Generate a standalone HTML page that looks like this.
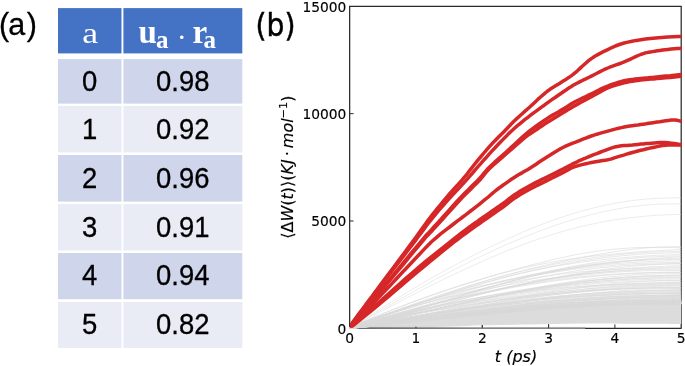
<!DOCTYPE html>
<html><head><meta charset="utf-8"><title>figure</title>
<style>
html,body{margin:0;padding:0;background:#fff;}
body{width:685px;height:366px;overflow:hidden;}
svg{display:block;}
.ss{font-family:"Liberation Sans",sans-serif;}
.dj{font-family:"DejaVu Sans","Liberation Sans",sans-serif;}
.se{font-family:"Liberation Serif",serif;}
</style></head><body>
<svg width="685" height="366" viewBox="0 0 685 366">
<rect width="685" height="366" fill="#fff"/>
<g id="table">
<rect x="58.0" y="8.1" width="63.50" height="45.30" fill="#4472c4"/><rect x="123.4" y="8.1" width="118.90" height="45.30" fill="#4472c4"/>
<rect x="58.0" y="59.1" width="63.50" height="44.50" fill="#cfd5ea"/><rect x="123.4" y="59.1" width="118.90" height="44.50" fill="#cfd5ea"/>
<rect x="58.0" y="105.9" width="63.50" height="46.50" fill="#e9ebf5"/><rect x="123.4" y="105.9" width="118.90" height="46.50" fill="#e9ebf5"/>
<rect x="58.0" y="155.0" width="63.50" height="46.60" fill="#cfd5ea"/><rect x="123.4" y="155.0" width="118.90" height="46.60" fill="#cfd5ea"/>
<rect x="58.0" y="204.1" width="63.50" height="46.40" fill="#e9ebf5"/><rect x="123.4" y="204.1" width="118.90" height="46.40" fill="#e9ebf5"/>
<rect x="58.0" y="253.0" width="63.50" height="46.20" fill="#cfd5ea"/><rect x="123.4" y="253.0" width="118.90" height="46.20" fill="#cfd5ea"/>
<rect x="58.0" y="302.0" width="63.50" height="46.00" fill="#e9ebf5"/><rect x="123.4" y="302.0" width="118.90" height="46.00" fill="#e9ebf5"/>
</g>
<g id="labels" fill="#000">
<text class="ss" x="-1.0" y="34.9" font-size="30.5" stroke="#000" stroke-width="0.3">(<tspan dx="-0.8">a</tspan><tspan dx="1.4">)</tspan></text>
<text class="se" transform="translate(90.2,43.1) scale(1.2,1)" font-size="29.8" fill="#fff" text-anchor="middle">a</text>
<text class="se" y="43.2" font-size="33" font-weight="bold" fill="#fff"><tspan x="138.6">u</tspan><tspan x="156.0" y="48" font-size="25">a</tspan><tspan x="176.8" y="46.6" font-weight="normal" font-size="30">·</tspan><tspan x="192.4" y="43.2">r</tspan><tspan x="203.6" y="48" font-size="25">a</tspan></text>
<text class="ss" transform="translate(89.7,90.5) scale(0.94,1)" font-size="29.2" text-anchor="middle" stroke="#000" stroke-width="0.3">0</text><text class="ss" transform="translate(182.7,90.5) scale(0.94,1)" font-size="29.2" text-anchor="middle" stroke="#000" stroke-width="0.3">0.98</text>
<text class="ss" transform="translate(89.7,139.2) scale(0.94,1)" font-size="29.2" text-anchor="middle" stroke="#000" stroke-width="0.3">1</text><text class="ss" transform="translate(182.7,139.2) scale(0.94,1)" font-size="29.2" text-anchor="middle" stroke="#000" stroke-width="0.3">0.92</text>
<text class="ss" transform="translate(89.7,187.8) scale(0.94,1)" font-size="29.2" text-anchor="middle" stroke="#000" stroke-width="0.3">2</text><text class="ss" transform="translate(182.7,187.8) scale(0.94,1)" font-size="29.2" text-anchor="middle" stroke="#000" stroke-width="0.3">0.96</text>
<text class="ss" transform="translate(89.7,236.8) scale(0.94,1)" font-size="29.2" text-anchor="middle" stroke="#000" stroke-width="0.3">3</text><text class="ss" transform="translate(182.7,236.8) scale(0.94,1)" font-size="29.2" text-anchor="middle" stroke="#000" stroke-width="0.3">0.91</text>
<text class="ss" transform="translate(89.7,285.4) scale(0.94,1)" font-size="29.2" text-anchor="middle" stroke="#000" stroke-width="0.3">4</text><text class="ss" transform="translate(182.7,285.4) scale(0.94,1)" font-size="29.2" text-anchor="middle" stroke="#000" stroke-width="0.3">0.94</text>
<text class="ss" transform="translate(89.7,334.3) scale(0.94,1)" font-size="29.2" text-anchor="middle" stroke="#000" stroke-width="0.3">5</text><text class="ss" transform="translate(182.7,334.3) scale(0.94,1)" font-size="29.2" text-anchor="middle" stroke="#000" stroke-width="0.3">0.82</text>
</g>
<g id="plot">
<defs><linearGradient id="bg" gradientUnits="userSpaceOnUse" x1="350" y1="0" x2="470" y2="0"><stop offset="0" stop-color="#858585"/><stop offset="1" stop-color="#ababab"/></linearGradient></defs>
<path d="M349.65,328.85 L349.65,6.35 L681.2,6.35 L681.2,328.85" stroke="#2b2b2b" stroke-width="1.25" fill="none"/>
<path d="M349.65,328.3 L681.2,328.3" stroke="#2b2b2b" stroke-width="1.25" fill="none"/>
<path d="M415.96,328.3 v-3.9 M482.27,328.3 v-3.9 M548.58,328.3 v-3.9 M614.89,328.3 v-3.9 M349.65,220.98 h3.9 M349.65,113.67 h3.9" stroke="#2b2b2b" stroke-width="1" fill="none"/>
<path d="M349.6,328.3 L357.9,327.2 L366.2,326.1 L374.5,325.0 L382.8,323.9 L391.1,322.9 L399.4,321.8 L407.7,320.7 L416.0,319.7 L424.2,318.6 L432.5,317.6 L440.8,316.6 L449.1,315.6 L457.4,314.7 L465.7,313.7 L474.0,312.8 L482.3,311.9 L490.6,311.0 L498.8,310.2 L507.1,309.4 L515.4,308.6 L523.7,307.8 L532.0,307.1 L540.3,306.4 L548.6,305.7 L556.9,305.1 L565.2,304.5 L573.4,304.0 L581.7,303.4 L590.0,303.0 L598.3,302.5 L606.6,302.1 L614.9,301.8 L623.2,301.4 L631.5,301.2 L639.8,300.9 L648.0,300.7 L656.3,300.6 L664.6,300.5 L672.9,300.4 L681.2,300.4 L681.2,323.9 L672.9,323.9 L664.6,323.8 L656.3,323.8 L648.0,323.8 L639.8,323.7 L631.5,323.7 L623.2,323.7 L614.9,323.6 L606.6,323.6 L598.3,323.6 L590.0,323.5 L581.7,323.6 L573.4,323.7 L565.2,323.8 L556.9,324.0 L548.6,324.1 L540.3,324.3 L532.0,324.4 L523.7,324.6 L515.4,324.7 L507.1,324.9 L498.8,325.0 L490.6,325.2 L482.3,325.3 L474.0,325.6 L465.7,325.9 L457.4,326.2 L449.1,326.5 L440.8,326.7 L432.5,327.0 L424.2,328.0 L416.0,328.0 L407.7,328.0 L399.4,328.0 L391.1,328.0 L382.8,328.0 L374.5,328.0 L366.2,328.0 L357.9,328.0 L349.6,328.0Z" fill="#dcdcdc"/>
<rect x="349.65" y="326.95" width="235.55" height="1.75" fill="url(#bg)"/>
<path d="M415.96,326.7 V328.2 M482.27,325.0 V328.2 M548.58,324.3 V328.2" stroke="#333" stroke-width="1" fill="none"/>
<g fill="none" stroke="#d8d8d8" stroke-width="0.6">
<path d="M349.6,328.3 L357.9,322.9 L366.2,317.7 L374.5,312.4 L382.8,307.3 L391.1,302.1 L399.4,297.1 L407.7,292.1 L416.0,287.1 L424.2,282.3 L432.5,277.5 L440.8,272.8 L449.1,268.2 L457.4,263.8 L465.7,259.4 L474.0,255.1 L482.3,250.9 L490.6,246.8 L498.8,242.9 L507.1,239.1 L515.4,235.3 L523.7,231.8 L532.0,228.3 L540.3,225.0 L548.6,221.9 L556.9,218.9 L565.2,216.1 L573.4,213.5 L581.7,211.1 L590.0,208.8 L598.3,206.8 L606.6,204.9 L614.9,203.3 L623.2,201.9 L631.5,200.7 L639.8,199.7 L648.0,198.9 L656.3,198.4 L664.6,198.0 L672.9,197.8 L681.2,197.8" stroke-opacity="0.8"/>
<path d="M349.6,328.3 L357.9,323.6 L366.2,318.8 L374.5,313.9 L382.8,309.1 L391.1,304.4 L399.4,299.6 L407.7,294.9 L416.0,290.2 L424.2,285.6 L432.5,281.1 L440.8,276.6 L449.1,272.3 L457.4,268.0 L465.7,263.8 L474.0,259.7 L482.3,255.7 L490.6,251.8 L498.8,248.0 L507.1,244.3 L515.4,240.8 L523.7,237.3 L532.0,234.0 L540.3,230.8 L548.6,227.8 L556.9,224.9 L565.2,222.1 L573.4,219.6 L581.7,217.2 L590.0,214.9 L598.3,212.9 L606.6,211.0 L614.9,209.4 L623.2,208.0 L631.5,206.7 L639.8,205.7 L648.0,204.9 L656.3,204.4 L664.6,204.0 L672.9,203.8 L681.2,203.8" stroke-opacity="0.8"/>
<path d="M349.6,328.3 L357.9,323.8 L366.2,319.4 L374.5,314.9 L382.8,310.5 L391.1,306.1 L399.4,301.8 L407.7,297.5 L416.0,293.2 L424.2,289.0 L432.5,284.8 L440.8,280.7 L449.1,276.7 L457.4,272.8 L465.7,268.9 L474.0,265.1 L482.3,261.4 L490.6,257.7 L498.8,254.2 L507.1,250.8 L515.4,247.5 L523.7,244.4 L532.0,241.3 L540.3,238.4 L548.6,235.7 L556.9,233.1 L565.2,230.7 L573.4,228.5 L581.7,226.4 L590.0,224.5 L598.3,222.8 L606.6,221.2 L614.9,219.8 L623.2,218.6 L631.5,217.6 L639.8,216.7 L648.0,215.9 L656.3,215.3 L664.6,214.9 L672.9,214.6 L681.2,214.5" stroke-opacity="0.8"/>
<path d="M349.6,328.3 L357.9,327.3 L366.2,326.3 L374.5,325.3 L382.8,324.4 L391.1,323.4 L399.4,322.5 L407.7,321.5 L416.0,320.6 L424.2,319.7 L432.5,318.8 L440.8,317.9 L449.1,317.0 L457.4,316.1 L465.7,315.3 L474.0,314.5 L482.3,313.7 L490.6,312.9 L498.8,312.2 L507.1,311.5 L515.4,310.8 L523.7,310.1 L532.0,309.5 L540.3,308.8 L548.6,308.3 L556.9,307.7 L565.2,307.2 L573.4,306.7 L581.7,306.3 L590.0,305.9 L598.3,305.5 L606.6,305.1 L614.9,304.8 L623.2,304.5 L631.5,304.3 L639.8,304.1 L648.0,303.9 L656.3,303.8 L664.6,303.7 L672.9,303.6 L681.2,303.6"/>
<path d="M349.6,328.3 L357.9,326.8 L366.2,325.6 L374.5,324.4 L382.8,323.3 L391.1,322.2 L399.4,321.1 L407.7,320.1 L416.0,319.1 L424.2,318.2 L432.5,317.3 L440.8,316.4 L449.1,315.5 L457.4,314.7 L465.7,313.9 L474.0,313.1 L482.3,312.4 L490.6,311.7 L498.8,311.0 L507.1,310.4 L515.4,309.8 L523.7,309.2 L532.0,308.6 L540.3,308.1 L548.6,307.6 L556.9,307.2 L565.2,306.7 L573.4,306.3 L581.7,305.9 L590.0,305.6 L598.3,305.2 L606.6,304.9 L614.9,304.6 L623.2,304.3 L631.5,304.1 L639.8,303.9 L648.0,303.7 L656.3,303.6 L664.6,303.5 L672.9,303.4 L681.2,303.4"/>
<path d="M349.6,328.3 L357.9,327.0 L366.2,325.8 L374.5,324.7 L382.8,323.6 L391.1,322.6 L399.4,321.6 L407.7,320.6 L416.0,319.6 L424.2,318.6 L432.5,317.7 L440.8,316.8 L449.1,316.0 L457.4,315.1 L465.7,314.3 L474.0,313.6 L482.3,312.8 L490.6,312.1 L498.8,311.5 L507.1,310.8 L515.4,310.2 L523.7,309.6 L532.0,309.0 L540.3,308.5 L548.6,307.9 L556.9,307.4 L565.2,306.9 L573.4,306.5 L581.7,306.0 L590.0,305.6 L598.3,305.2 L606.6,304.8 L614.9,304.5 L623.2,304.2 L631.5,304.0 L639.8,303.8 L648.0,303.6 L656.3,303.5 L664.6,303.4 L672.9,303.4 L681.2,303.4"/>
<path d="M349.6,328.3 L357.9,327.2 L366.2,326.1 L374.5,325.1 L382.8,324.1 L391.1,323.0 L399.4,322.1 L407.7,321.1 L416.0,320.1 L424.2,319.2 L432.5,318.3 L440.8,317.5 L449.1,316.6 L457.4,315.8 L465.7,315.0 L474.0,314.3 L482.3,313.5 L490.6,312.8 L498.8,312.1 L507.1,311.4 L515.4,310.7 L523.7,310.1 L532.0,309.4 L540.3,308.8 L548.6,308.2 L556.9,307.6 L565.2,307.0 L573.4,306.5 L581.7,306.0 L590.0,305.5 L598.3,305.1 L606.6,304.7 L614.9,304.4 L623.2,304.1 L631.5,303.9 L639.8,303.7 L648.0,303.6 L656.3,303.6 L664.6,303.6 L672.9,303.7 L681.2,303.7"/>
<path d="M349.6,328.3 L357.9,327.1 L366.2,325.9 L374.5,324.9 L382.8,323.8 L391.1,322.8 L399.4,321.8 L407.7,320.8 L416.0,319.9 L424.2,318.9 L432.5,318.0 L440.8,317.1 L449.1,316.3 L457.4,315.4 L465.7,314.6 L474.0,313.8 L482.3,313.1 L490.6,312.3 L498.8,311.6 L507.1,310.9 L515.4,310.3 L523.7,309.6 L532.0,309.0 L540.3,308.4 L548.6,307.9 L556.9,307.4 L565.2,306.9 L573.4,306.4 L581.7,306.0 L590.0,305.6 L598.3,305.2 L606.6,304.9 L614.9,304.6 L623.2,304.4 L631.5,304.2 L639.8,304.0 L648.0,303.9 L656.3,303.8 L664.6,303.7 L672.9,303.7 L681.2,303.7"/>
<path d="M349.6,328.3 L357.9,327.6 L366.2,326.7 L374.5,325.9 L382.8,325.0 L391.1,324.2 L399.4,323.3 L407.7,322.4 L416.0,321.5 L424.2,320.6 L432.5,319.7 L440.8,318.8 L449.1,318.0 L457.4,317.1 L465.7,316.2 L474.0,315.4 L482.3,314.6 L490.6,313.8 L498.8,313.0 L507.1,312.2 L515.4,311.5 L523.7,310.8 L532.0,310.1 L540.3,309.4 L548.6,308.8 L556.9,308.2 L565.2,307.7 L573.4,307.2 L581.7,306.7 L590.0,306.2 L598.3,305.8 L606.6,305.4 L614.9,305.0 L623.2,304.7 L631.5,304.5 L639.8,304.2 L648.0,304.0 L656.3,303.8 L664.6,303.7 L672.9,303.6 L681.2,303.6"/>
<path d="M349.6,328.3 L357.9,327.2 L366.2,326.1 L374.5,325.0 L382.8,324.0 L391.1,323.0 L399.4,322.0 L407.7,321.0 L416.0,320.1 L424.2,319.2 L432.5,318.3 L440.8,317.4 L449.1,316.5 L457.4,315.7 L465.7,314.9 L474.0,314.1 L482.3,313.4 L490.6,312.6 L498.8,311.9 L507.1,311.2 L515.4,310.6 L523.7,309.9 L532.0,309.3 L540.3,308.6 L548.6,308.1 L556.9,307.5 L565.2,307.0 L573.4,306.5 L581.7,306.0 L590.0,305.6 L598.3,305.2 L606.6,304.8 L614.9,304.5 L623.2,304.2 L631.5,304.0 L639.8,303.9 L648.0,303.8 L656.3,303.7 L664.6,303.7 L672.9,303.7 L681.2,303.7"/>
<path d="M349.6,328.3 L357.9,327.0 L366.2,325.8 L374.5,324.7 L382.8,323.6 L391.1,322.6 L399.4,321.6 L407.7,320.6 L416.0,319.6 L424.2,318.7 L432.5,317.8 L440.8,316.9 L449.1,316.0 L457.4,315.2 L465.7,314.4 L474.0,313.5 L482.3,312.8 L490.6,312.0 L498.8,311.3 L507.1,310.5 L515.4,309.9 L523.7,309.2 L532.0,308.6 L540.3,308.1 L548.6,307.5 L556.9,307.0 L565.2,306.6 L573.4,306.2 L581.7,305.9 L590.0,305.5 L598.3,305.3 L606.6,305.0 L614.9,304.8 L623.2,304.6 L631.5,304.4 L639.8,304.3 L648.0,304.2 L656.3,304.0 L664.6,303.9 L672.9,303.9 L681.2,303.8"/>
<path d="M349.6,328.3 L357.9,327.4 L366.2,326.4 L374.5,325.5 L382.8,324.5 L391.1,323.6 L399.4,322.7 L407.7,321.7 L416.0,320.8 L424.2,319.9 L432.5,319.0 L440.8,318.2 L449.1,317.3 L457.4,316.4 L465.7,315.6 L474.0,314.8 L482.3,314.0 L490.6,313.2 L498.8,312.4 L507.1,311.7 L515.4,310.9 L523.7,310.2 L532.0,309.5 L540.3,308.9 L548.6,308.3 L556.9,307.7 L565.2,307.2 L573.4,306.7 L581.7,306.2 L590.0,305.8 L598.3,305.4 L606.6,305.1 L614.9,304.8 L623.2,304.6 L631.5,304.4 L639.8,304.2 L648.0,304.1 L656.3,304.0 L664.6,303.9 L672.9,303.8 L681.2,303.8"/>
<path d="M349.6,328.3 L357.9,327.5 L366.2,326.6 L374.5,325.7 L382.8,324.8 L391.1,323.9 L399.4,323.0 L407.7,322.1 L416.0,321.2 L424.2,320.3 L432.5,319.4 L440.8,318.5 L449.1,317.6 L457.4,316.7 L465.7,315.9 L474.0,315.0 L482.3,314.2 L490.6,313.4 L498.8,312.6 L507.1,311.9 L515.4,311.2 L523.7,310.5 L532.0,309.8 L540.3,309.2 L548.6,308.6 L556.9,308.0 L565.2,307.5 L573.4,307.0 L581.7,306.5 L590.0,306.1 L598.3,305.7 L606.6,305.3 L614.9,305.0 L623.2,304.7 L631.5,304.4 L639.8,304.2 L648.0,304.0 L656.3,303.8 L664.6,303.7 L672.9,303.6 L681.2,303.5"/>
<path d="M349.6,328.3 L357.9,327.6 L366.2,326.8 L374.5,326.0 L382.8,325.1 L391.1,324.3 L399.4,323.4 L407.7,322.5 L416.0,321.7 L424.2,320.8 L432.5,319.9 L440.8,319.1 L449.1,318.2 L457.4,317.4 L465.7,316.5 L474.0,315.7 L482.3,314.8 L490.6,314.0 L498.8,313.2 L507.1,312.4 L515.4,311.6 L523.7,310.8 L532.0,310.1 L540.3,309.4 L548.6,308.7 L556.9,308.1 L565.2,307.5 L573.4,306.9 L581.7,306.4 L590.0,306.0 L598.3,305.6 L606.6,305.2 L614.9,304.9 L623.2,304.7 L631.5,304.5 L639.8,304.3 L648.0,304.2 L656.3,304.1 L664.6,304.0 L672.9,303.9 L681.2,303.9"/>
<path d="M349.6,328.3 L357.9,326.9 L366.2,325.6 L374.5,324.5 L382.8,323.3 L391.1,322.3 L399.4,321.2 L407.7,320.2 L416.0,319.2 L424.2,318.3 L432.5,317.3 L440.8,316.4 L449.1,315.6 L457.4,314.7 L465.7,313.9 L474.0,313.1 L482.3,312.4 L490.6,311.7 L498.8,311.0 L507.1,310.3 L515.4,309.7 L523.7,309.2 L532.0,308.6 L540.3,308.1 L548.6,307.6 L556.9,307.1 L565.2,306.7 L573.4,306.3 L581.7,305.9 L590.0,305.6 L598.3,305.2 L606.6,304.9 L614.9,304.6 L623.2,304.3 L631.5,304.1 L639.8,303.9 L648.0,303.7 L656.3,303.6 L664.6,303.4 L672.9,303.4 L681.2,303.3"/>
<path d="M349.6,328.3 L357.9,327.3 L366.2,326.3 L374.5,325.3 L382.8,324.3 L391.1,323.3 L399.4,322.4 L407.7,321.4 L416.0,320.5 L424.2,319.6 L432.5,318.7 L440.8,317.8 L449.1,316.9 L457.4,316.0 L465.7,315.2 L474.0,314.4 L482.3,313.6 L490.6,312.8 L498.8,312.1 L507.1,311.4 L515.4,310.7 L523.7,310.0 L532.0,309.4 L540.3,308.8 L548.6,308.2 L556.9,307.6 L565.2,307.1 L573.4,306.6 L581.7,306.2 L590.0,305.8 L598.3,305.4 L606.6,305.0 L614.9,304.7 L623.2,304.5 L631.5,304.2 L639.8,304.0 L648.0,303.8 L656.3,303.7 L664.6,303.6 L672.9,303.5 L681.2,303.5"/>
<path d="M349.6,328.3 L357.9,327.3 L366.2,326.4 L374.5,325.4 L382.8,324.5 L391.1,323.5 L399.4,322.6 L407.7,321.7 L416.0,320.8 L424.2,319.9 L432.5,319.0 L440.8,318.1 L449.1,317.3 L457.4,316.4 L465.7,315.6 L474.0,314.8 L482.3,313.9 L490.6,313.1 L498.8,312.3 L507.1,311.5 L515.4,310.8 L523.7,310.1 L532.0,309.4 L540.3,308.7 L548.6,308.1 L556.9,307.5 L565.2,306.9 L573.4,306.4 L581.7,306.0 L590.0,305.6 L598.3,305.3 L606.6,305.0 L614.9,304.7 L623.2,304.5 L631.5,304.4 L639.8,304.2 L648.0,304.1 L656.3,304.1 L664.6,304.0 L672.9,303.9 L681.2,303.9"/>
<path d="M349.6,328.3 L357.9,327.4 L366.2,326.4 L374.5,325.5 L382.8,324.6 L391.1,323.6 L399.4,322.7 L407.7,321.8 L416.0,320.9 L424.2,320.0 L432.5,319.0 L440.8,318.2 L449.1,317.3 L457.4,316.4 L465.7,315.5 L474.0,314.7 L482.3,313.9 L490.6,313.0 L498.8,312.3 L507.1,311.5 L515.4,310.8 L523.7,310.1 L532.0,309.4 L540.3,308.8 L548.6,308.2 L556.9,307.6 L565.2,307.1 L573.4,306.7 L581.7,306.2 L590.0,305.8 L598.3,305.5 L606.6,305.2 L614.9,304.9 L623.2,304.6 L631.5,304.4 L639.8,304.2 L648.0,304.0 L656.3,303.9 L664.6,303.8 L672.9,303.7 L681.2,303.6"/>
<path d="M349.6,328.3 L357.9,327.6 L366.2,326.9 L374.5,326.1 L382.8,325.3 L391.1,324.4 L399.4,323.6 L407.7,322.7 L416.0,321.8 L424.2,320.9 L432.5,320.0 L440.8,319.1 L449.1,318.2 L457.4,317.4 L465.7,316.5 L474.0,315.6 L482.3,314.8 L490.6,314.0 L498.8,313.2 L507.1,312.4 L515.4,311.6 L523.7,310.9 L532.0,310.2 L540.3,309.6 L548.6,309.0 L556.9,308.4 L565.2,307.8 L573.4,307.3 L581.7,306.8 L590.0,306.3 L598.3,305.9 L606.6,305.4 L614.9,305.1 L623.2,304.7 L631.5,304.4 L639.8,304.1 L648.0,303.8 L656.3,303.6 L664.6,303.5 L672.9,303.3 L681.2,303.3"/>
<path d="M349.6,328.3 L357.9,327.5 L366.2,326.6 L374.5,325.7 L382.8,324.8 L391.1,323.8 L399.4,322.9 L407.7,322.0 L416.0,321.0 L424.2,320.1 L432.5,319.2 L440.8,318.3 L449.1,317.5 L457.4,316.6 L465.7,315.8 L474.0,315.0 L482.3,314.2 L490.6,313.4 L498.8,312.7 L507.1,312.0 L515.4,311.3 L523.7,310.6 L532.0,309.9 L540.3,309.3 L548.6,308.6 L556.9,308.0 L565.2,307.4 L573.4,306.9 L581.7,306.3 L590.0,305.8 L598.3,305.4 L606.6,304.9 L614.9,304.5 L623.2,304.2 L631.5,303.9 L639.8,303.7 L648.0,303.5 L656.3,303.4 L664.6,303.3 L672.9,303.3 L681.2,303.3"/>
<path d="M349.6,328.3 L357.9,327.1 L366.2,325.9 L374.5,324.8 L382.8,323.8 L391.1,322.8 L399.4,321.7 L407.7,320.8 L416.0,319.8 L424.2,318.8 L432.5,317.9 L440.8,317.0 L449.1,316.1 L457.4,315.2 L465.7,314.4 L474.0,313.6 L482.3,312.8 L490.6,312.0 L498.8,311.3 L507.1,310.6 L515.4,310.0 L523.7,309.4 L532.0,308.8 L540.3,308.2 L548.6,307.7 L556.9,307.2 L565.2,306.8 L573.4,306.3 L581.7,305.9 L590.0,305.6 L598.3,305.2 L606.6,304.9 L614.9,304.6 L623.2,304.3 L631.5,304.1 L639.8,303.8 L648.0,303.7 L656.3,303.5 L664.6,303.4 L672.9,303.3 L681.2,303.2"/>
<path d="M349.6,328.3 L357.9,327.2 L366.2,326.2 L374.5,325.2 L382.8,324.2 L391.1,323.2 L399.4,322.2 L407.7,321.3 L416.0,320.3 L424.2,319.4 L432.5,318.5 L440.8,317.6 L449.1,316.7 L457.4,315.9 L465.7,315.0 L474.0,314.2 L482.3,313.4 L490.6,312.7 L498.8,311.9 L507.1,311.2 L515.4,310.5 L523.7,309.8 L532.0,309.2 L540.3,308.6 L548.6,308.0 L556.9,307.4 L565.2,306.9 L573.4,306.4 L581.7,305.9 L590.0,305.5 L598.3,305.1 L606.6,304.8 L614.9,304.5 L623.2,304.2 L631.5,304.0 L639.8,303.8 L648.0,303.6 L656.3,303.5 L664.6,303.5 L672.9,303.4 L681.2,303.4"/>
<path d="M349.6,328.3 L357.9,327.5 L366.2,326.7 L374.5,325.8 L382.8,324.9 L391.1,324.0 L399.4,323.1 L407.7,322.2 L416.0,321.3 L424.2,320.4 L432.5,319.5 L440.8,318.6 L449.1,317.7 L457.4,316.8 L465.7,316.0 L474.0,315.1 L482.3,314.3 L490.6,313.5 L498.8,312.7 L507.1,312.0 L515.4,311.2 L523.7,310.5 L532.0,309.8 L540.3,309.1 L548.6,308.5 L556.9,307.9 L565.2,307.3 L573.4,306.8 L581.7,306.3 L590.0,305.8 L598.3,305.4 L606.6,305.0 L614.9,304.6 L623.2,304.3 L631.5,304.1 L639.8,303.9 L648.0,303.7 L656.3,303.5 L664.6,303.4 L672.9,303.4 L681.2,303.4"/>
<path d="M349.6,328.3 L357.9,327.6 L366.2,326.8 L374.5,325.9 L382.8,325.1 L391.1,324.2 L399.4,323.3 L407.7,322.4 L416.0,321.5 L424.2,320.7 L432.5,319.8 L440.8,318.9 L449.1,318.0 L457.4,317.1 L465.7,316.2 L474.0,315.4 L482.3,314.6 L490.6,313.7 L498.8,312.9 L507.1,312.2 L515.4,311.4 L523.7,310.7 L532.0,310.0 L540.3,309.3 L548.6,308.6 L556.9,308.0 L565.2,307.4 L573.4,306.9 L581.7,306.4 L590.0,305.9 L598.3,305.5 L606.6,305.1 L614.9,304.7 L623.2,304.4 L631.5,304.1 L639.8,303.8 L648.0,303.6 L656.3,303.5 L664.6,303.4 L672.9,303.3 L681.2,303.3"/>
<path d="M349.6,328.3 L357.9,327.6 L366.2,326.8 L374.5,326.0 L382.8,325.1 L391.1,324.2 L399.4,323.3 L407.7,322.4 L416.0,321.5 L424.2,320.6 L432.5,319.7 L440.8,318.8 L449.1,317.9 L457.4,317.0 L465.7,316.1 L474.0,315.3 L482.3,314.5 L490.6,313.7 L498.8,312.9 L507.1,312.2 L515.4,311.5 L523.7,310.8 L532.0,310.1 L540.3,309.5 L548.6,308.9 L556.9,308.3 L565.2,307.7 L573.4,307.1 L581.7,306.5 L590.0,306.0 L598.3,305.5 L606.6,305.0 L614.9,304.6 L623.2,304.2 L631.5,303.8 L639.8,303.5 L648.0,303.2 L656.3,303.0 L664.6,302.9 L672.9,302.8 L681.2,302.8"/>
<path d="M349.6,328.3 L357.9,327.2 L366.2,326.1 L374.5,325.1 L382.8,324.1 L391.1,323.1 L399.4,322.1 L407.7,321.1 L416.0,320.1 L424.2,319.1 L432.5,318.2 L440.8,317.3 L449.1,316.4 L457.4,315.5 L465.7,314.7 L474.0,313.9 L482.3,313.1 L490.6,312.3 L498.8,311.6 L507.1,310.9 L515.4,310.2 L523.7,309.6 L532.0,309.0 L540.3,308.4 L548.6,307.8 L556.9,307.3 L565.2,306.8 L573.4,306.3 L581.7,305.8 L590.0,305.4 L598.3,305.0 L606.6,304.6 L614.9,304.3 L623.2,304.0 L631.5,303.7 L639.8,303.5 L648.0,303.3 L656.3,303.1 L664.6,303.0 L672.9,303.0 L681.2,303.0"/>
<path d="M349.6,328.3 L357.9,326.9 L366.2,325.6 L374.5,324.4 L382.8,323.3 L391.1,322.2 L399.4,321.2 L407.7,320.2 L416.0,319.2 L424.2,318.2 L432.5,317.3 L440.8,316.4 L449.1,315.5 L457.4,314.7 L465.7,313.8 L474.0,313.0 L482.3,312.3 L490.6,311.5 L498.8,310.8 L507.1,310.1 L515.4,309.5 L523.7,308.8 L532.0,308.2 L540.3,307.6 L548.6,307.1 L556.9,306.6 L565.2,306.1 L573.4,305.7 L581.7,305.3 L590.0,304.9 L598.3,304.6 L606.6,304.3 L614.9,304.0 L623.2,303.8 L631.5,303.6 L639.8,303.4 L648.0,303.3 L656.3,303.2 L664.6,303.2 L672.9,303.1 L681.2,303.1"/>
<path d="M349.6,328.3 L357.9,327.2 L366.2,326.2 L374.5,325.2 L382.8,324.2 L391.1,323.2 L399.4,322.2 L407.7,321.3 L416.0,320.3 L424.2,319.4 L432.5,318.5 L440.8,317.6 L449.1,316.7 L457.4,315.9 L465.7,315.0 L474.0,314.2 L482.3,313.4 L490.6,312.6 L498.8,311.8 L507.1,311.0 L515.4,310.3 L523.7,309.6 L532.0,308.9 L540.3,308.2 L548.6,307.6 L556.9,307.0 L565.2,306.5 L573.4,305.9 L581.7,305.5 L590.0,305.1 L598.3,304.7 L606.6,304.4 L614.9,304.1 L623.2,303.9 L631.5,303.7 L639.8,303.6 L648.0,303.5 L656.3,303.4 L664.6,303.3 L672.9,303.3 L681.2,303.3"/>
<path d="M349.6,328.3 L357.9,327.2 L366.2,326.1 L374.5,325.1 L382.8,324.1 L391.1,323.0 L399.4,322.1 L407.7,321.1 L416.0,320.1 L424.2,319.1 L432.5,318.2 L440.8,317.3 L449.1,316.4 L457.4,315.5 L465.7,314.6 L474.0,313.8 L482.3,313.0 L490.6,312.2 L498.8,311.4 L507.1,310.7 L515.4,310.0 L523.7,309.3 L532.0,308.7 L540.3,308.1 L548.6,307.5 L556.9,307.0 L565.2,306.5 L573.4,306.0 L581.7,305.6 L590.0,305.2 L598.3,304.9 L606.6,304.6 L614.9,304.3 L623.2,304.0 L631.5,303.7 L639.8,303.5 L648.0,303.3 L656.3,303.2 L664.6,303.0 L672.9,302.9 L681.2,302.9"/>
<path d="M349.6,328.3 L357.9,327.4 L366.2,326.5 L374.5,325.6 L382.8,324.7 L391.1,323.7 L399.4,322.8 L407.7,321.9 L416.0,320.9 L424.2,320.0 L432.5,319.0 L440.8,318.1 L449.1,317.2 L457.4,316.3 L465.7,315.4 L474.0,314.5 L482.3,313.7 L490.6,312.8 L498.8,312.0 L507.1,311.3 L515.4,310.5 L523.7,309.8 L532.0,309.2 L540.3,308.5 L548.6,307.9 L556.9,307.4 L565.2,306.8 L573.4,306.3 L581.7,305.9 L590.0,305.4 L598.3,305.0 L606.6,304.7 L614.9,304.3 L623.2,304.0 L631.5,303.7 L639.8,303.4 L648.0,303.2 L656.3,303.0 L664.6,302.8 L672.9,302.7 L681.2,302.6"/>
<path d="M349.6,328.3 L357.9,326.7 L366.2,325.4 L374.5,324.2 L382.8,323.0 L391.1,321.9 L399.4,320.8 L407.7,319.7 L416.0,318.7 L424.2,317.7 L432.5,316.7 L440.8,315.7 L449.1,314.8 L457.4,313.9 L465.7,313.1 L474.0,312.3 L482.3,311.6 L490.6,310.8 L498.8,310.2 L507.1,309.5 L515.4,308.9 L523.7,308.4 L532.0,307.9 L540.3,307.4 L548.6,306.9 L556.9,306.5 L565.2,306.0 L573.4,305.6 L581.7,305.2 L590.0,304.9 L598.3,304.5 L606.6,304.1 L614.9,303.8 L623.2,303.5 L631.5,303.2 L639.8,302.9 L648.0,302.7 L656.3,302.5 L664.6,302.4 L672.9,302.3 L681.2,302.2"/>
<path d="M349.6,328.3 L357.9,327.5 L366.2,326.6 L374.5,325.8 L382.8,324.9 L391.1,323.9 L399.4,323.0 L407.7,322.1 L416.0,321.2 L424.2,320.3 L432.5,319.3 L440.8,318.4 L449.1,317.5 L457.4,316.6 L465.7,315.7 L474.0,314.9 L482.3,314.0 L490.6,313.1 L498.8,312.3 L507.1,311.5 L515.4,310.7 L523.7,309.9 L532.0,309.2 L540.3,308.5 L548.6,307.9 L556.9,307.2 L565.2,306.7 L573.4,306.1 L581.7,305.6 L590.0,305.2 L598.3,304.8 L606.6,304.4 L614.9,304.1 L623.2,303.8 L631.5,303.5 L639.8,303.3 L648.0,303.1 L656.3,303.0 L664.6,302.8 L672.9,302.8 L681.2,302.7"/>
<path d="M349.6,328.3 L357.9,327.4 L366.2,326.4 L374.5,325.5 L382.8,324.5 L391.1,323.5 L399.4,322.6 L407.7,321.6 L416.0,320.6 L424.2,319.7 L432.5,318.8 L440.8,317.8 L449.1,316.9 L457.4,316.0 L465.7,315.2 L474.0,314.3 L482.3,313.5 L490.6,312.6 L498.8,311.9 L507.1,311.1 L515.4,310.3 L523.7,309.6 L532.0,308.9 L540.3,308.3 L548.6,307.6 L556.9,307.0 L565.2,306.5 L573.4,305.9 L581.7,305.4 L590.0,305.0 L598.3,304.6 L606.6,304.2 L614.9,303.8 L623.2,303.5 L631.5,303.3 L639.8,303.0 L648.0,302.9 L656.3,302.7 L664.6,302.6 L672.9,302.6 L681.2,302.5"/>
<path d="M349.6,328.3 L357.9,326.8 L366.2,325.6 L374.5,324.4 L382.8,323.2 L391.1,322.1 L399.4,321.0 L407.7,320.0 L416.0,319.0 L424.2,318.0 L432.5,317.0 L440.8,316.1 L449.1,315.2 L457.4,314.3 L465.7,313.5 L474.0,312.7 L482.3,311.9 L490.6,311.2 L498.8,310.5 L507.1,309.8 L515.4,309.1 L523.7,308.5 L532.0,307.8 L540.3,307.2 L548.6,306.7 L556.9,306.1 L565.2,305.6 L573.4,305.2 L581.7,304.7 L590.0,304.3 L598.3,303.9 L606.6,303.6 L614.9,303.3 L623.2,303.1 L631.5,302.9 L639.8,302.7 L648.0,302.6 L656.3,302.5 L664.6,302.4 L672.9,302.4 L681.2,302.5"/>
<path d="M349.6,328.3 L357.9,326.8 L366.2,325.5 L374.5,324.3 L382.8,323.2 L391.1,322.1 L399.4,321.0 L407.7,319.9 L416.0,318.9 L424.2,317.9 L432.5,317.0 L440.8,316.0 L449.1,315.1 L457.4,314.3 L465.7,313.4 L474.0,312.6 L482.3,311.8 L490.6,311.0 L498.8,310.3 L507.1,309.6 L515.4,308.9 L523.7,308.2 L532.0,307.6 L540.3,307.1 L548.6,306.5 L556.9,306.0 L565.2,305.5 L573.4,305.1 L581.7,304.7 L590.0,304.3 L598.3,303.9 L606.6,303.6 L614.9,303.4 L623.2,303.1 L631.5,302.9 L639.8,302.8 L648.0,302.6 L656.3,302.5 L664.6,302.4 L672.9,302.4 L681.2,302.4"/>
<path d="M349.6,328.3 L357.9,327.5 L366.2,326.7 L374.5,325.8 L382.8,324.9 L391.1,324.0 L399.4,323.1 L407.7,322.2 L416.0,321.2 L424.2,320.3 L432.5,319.4 L440.8,318.5 L449.1,317.6 L457.4,316.7 L465.7,315.8 L474.0,315.0 L482.3,314.1 L490.6,313.3 L498.8,312.4 L507.1,311.6 L515.4,310.8 L523.7,310.0 L532.0,309.2 L540.3,308.5 L548.6,307.8 L556.9,307.1 L565.2,306.4 L573.4,305.8 L581.7,305.2 L590.0,304.7 L598.3,304.2 L606.6,303.8 L614.9,303.4 L623.2,303.1 L631.5,302.9 L639.8,302.7 L648.0,302.5 L656.3,302.4 L664.6,302.4 L672.9,302.4 L681.2,302.4"/>
<path d="M349.6,328.3 L357.9,327.1 L366.2,325.9 L374.5,324.8 L382.8,323.7 L391.1,322.6 L399.4,321.5 L407.7,320.5 L416.0,319.5 L424.2,318.5 L432.5,317.6 L440.8,316.6 L449.1,315.7 L457.4,314.8 L465.7,314.0 L474.0,313.1 L482.3,312.3 L490.6,311.5 L498.8,310.7 L507.1,310.0 L515.4,309.3 L523.7,308.6 L532.0,307.9 L540.3,307.3 L548.6,306.6 L556.9,306.1 L565.2,305.5 L573.4,305.0 L581.7,304.5 L590.0,304.1 L598.3,303.7 L606.6,303.4 L614.9,303.0 L623.2,302.8 L631.5,302.6 L639.8,302.4 L648.0,302.3 L656.3,302.2 L664.6,302.1 L672.9,302.1 L681.2,302.1"/>
<path d="M349.6,328.3 L357.9,327.6 L366.2,326.8 L374.5,326.0 L382.8,325.2 L391.1,324.3 L399.4,323.4 L407.7,322.5 L416.0,321.5 L424.2,320.6 L432.5,319.7 L440.8,318.7 L449.1,317.8 L457.4,316.9 L465.7,315.9 L474.0,315.0 L482.3,314.1 L490.6,313.2 L498.8,312.3 L507.1,311.5 L515.4,310.6 L523.7,309.8 L532.0,309.1 L540.3,308.3 L548.6,307.6 L556.9,307.0 L565.2,306.4 L573.4,305.8 L581.7,305.3 L590.0,304.8 L598.3,304.3 L606.6,303.9 L614.9,303.5 L623.2,303.2 L631.5,302.9 L639.8,302.6 L648.0,302.4 L656.3,302.2 L664.6,302.0 L672.9,301.9 L681.2,301.8"/>
<path d="M349.6,328.3 L357.9,326.7 L366.2,325.4 L374.5,324.1 L382.8,322.9 L391.1,321.8 L399.4,320.6 L407.7,319.6 L416.0,318.5 L424.2,317.5 L432.5,316.5 L440.8,315.6 L449.1,314.7 L457.4,313.8 L465.7,312.9 L474.0,312.1 L482.3,311.3 L490.6,310.5 L498.8,309.8 L507.1,309.0 L515.4,308.3 L523.7,307.7 L532.0,307.0 L540.3,306.4 L548.6,305.9 L556.9,305.3 L565.2,304.8 L573.4,304.4 L581.7,304.0 L590.0,303.6 L598.3,303.3 L606.6,303.0 L614.9,302.7 L623.2,302.5 L631.5,302.3 L639.8,302.2 L648.0,302.1 L656.3,302.0 L664.6,301.9 L672.9,301.9 L681.2,301.9"/>
<path d="M349.6,328.3 L357.9,326.8 L366.2,325.5 L374.5,324.2 L382.8,323.0 L391.1,321.9 L399.4,320.8 L407.7,319.7 L416.0,318.6 L424.2,317.6 L432.5,316.6 L440.8,315.7 L449.1,314.7 L457.4,313.8 L465.7,312.9 L474.0,312.1 L482.3,311.3 L490.6,310.5 L498.8,309.7 L507.1,309.0 L515.4,308.3 L523.7,307.6 L532.0,307.0 L540.3,306.4 L548.6,305.9 L556.9,305.3 L565.2,304.8 L573.4,304.4 L581.7,303.9 L590.0,303.5 L598.3,303.2 L606.6,302.8 L614.9,302.5 L623.2,302.3 L631.5,302.1 L639.8,301.9 L648.0,301.7 L656.3,301.6 L664.6,301.5 L672.9,301.5 L681.2,301.4"/>
<path d="M349.6,328.3 L357.9,326.8 L366.2,325.4 L374.5,324.2 L382.8,322.9 L391.1,321.8 L399.4,320.6 L407.7,319.5 L416.0,318.5 L424.2,317.5 L432.5,316.5 L440.8,315.5 L449.1,314.6 L457.4,313.7 L465.7,312.8 L474.0,312.0 L482.3,311.2 L490.6,310.4 L498.8,309.7 L507.1,309.0 L515.4,308.3 L523.7,307.6 L532.0,307.0 L540.3,306.4 L548.6,305.8 L556.9,305.2 L565.2,304.7 L573.4,304.2 L581.7,303.7 L590.0,303.2 L598.3,302.8 L606.6,302.5 L614.9,302.2 L623.2,301.9 L631.5,301.7 L639.8,301.5 L648.0,301.4 L656.3,301.3 L664.6,301.3 L672.9,301.3 L681.2,301.4"/>
<path d="M349.6,328.3 L357.9,327.6 L366.2,326.8 L374.5,326.0 L382.8,325.1 L391.1,324.2 L399.4,323.2 L407.7,322.3 L416.0,321.3 L424.2,320.3 L432.5,319.3 L440.8,318.3 L449.1,317.4 L457.4,316.4 L465.7,315.4 L474.0,314.5 L482.3,313.5 L490.6,312.6 L498.8,311.8 L507.1,310.9 L515.4,310.2 L523.7,309.4 L532.0,308.7 L540.3,308.0 L548.6,307.3 L556.9,306.7 L565.2,306.1 L573.4,305.5 L581.7,305.0 L590.0,304.5 L598.3,304.0 L606.6,303.5 L614.9,303.0 L623.2,302.6 L631.5,302.2 L639.8,301.8 L648.0,301.5 L656.3,301.2 L664.6,301.0 L672.9,300.8 L681.2,300.7"/>
<path d="M349.6,328.3 L357.9,327.0 L366.2,325.9 L374.5,324.7 L382.8,323.6 L391.1,322.5 L399.4,321.4 L407.7,320.3 L416.0,319.2 L424.2,318.2 L432.5,317.2 L440.8,316.2 L449.1,315.2 L457.4,314.3 L465.7,313.4 L474.0,312.5 L482.3,311.6 L490.6,310.8 L498.8,310.0 L507.1,309.2 L515.4,308.5 L523.7,307.8 L532.0,307.1 L540.3,306.5 L548.6,305.9 L556.9,305.3 L565.2,304.8 L573.4,304.3 L581.7,303.8 L590.0,303.4 L598.3,302.9 L606.6,302.6 L614.9,302.2 L623.2,301.9 L631.5,301.7 L639.8,301.4 L648.0,301.2 L656.3,301.1 L664.6,301.0 L672.9,300.9 L681.2,300.9"/>
<path d="M349.6,328.3 L357.9,327.4 L366.2,326.5 L374.5,325.5 L382.8,324.5 L391.1,323.6 L399.4,322.6 L407.7,321.6 L416.0,320.6 L424.2,319.6 L432.5,318.6 L440.8,317.6 L449.1,316.7 L457.4,315.7 L465.7,314.8 L474.0,313.9 L482.3,312.9 L490.6,312.1 L498.8,311.2 L507.1,310.3 L515.4,309.5 L523.7,308.7 L532.0,307.9 L540.3,307.1 L548.6,306.4 L556.9,305.7 L565.2,305.1 L573.4,304.5 L581.7,303.9 L590.0,303.4 L598.3,302.9 L606.6,302.5 L614.9,302.1 L623.2,301.8 L631.5,301.6 L639.8,301.3 L648.0,301.2 L656.3,301.0 L664.6,300.9 L672.9,300.9 L681.2,300.9"/>
<path d="M349.6,328.3 L357.9,327.6 L366.2,326.8 L374.5,325.9 L382.8,325.0 L391.1,324.0 L399.4,323.1 L407.7,322.1 L416.0,321.1 L424.2,320.1 L432.5,319.1 L440.8,318.1 L449.1,317.1 L457.4,316.1 L465.7,315.1 L474.0,314.2 L482.3,313.3 L490.6,312.4 L498.8,311.5 L507.1,310.7 L515.4,309.9 L523.7,309.1 L532.0,308.4 L540.3,307.6 L548.6,306.9 L556.9,306.3 L565.2,305.6 L573.4,305.0 L581.7,304.4 L590.0,303.8 L598.3,303.2 L606.6,302.7 L614.9,302.2 L623.2,301.7 L631.5,301.3 L639.8,300.9 L648.0,300.6 L656.3,300.3 L664.6,300.1 L672.9,300.0 L681.2,300.0"/>
<path d="M349.6,328.3 L357.9,327.4 L366.2,326.4 L374.5,325.4 L382.8,324.4 L391.1,323.4 L399.4,322.4 L407.7,321.3 L416.0,320.3 L424.2,319.3 L432.5,318.3 L440.8,317.3 L449.1,316.3 L457.4,315.3 L465.7,314.3 L474.0,313.4 L482.3,312.4 L490.6,311.5 L498.8,310.6 L507.1,309.8 L515.4,308.9 L523.7,308.1 L532.0,307.4 L540.3,306.6 L548.6,305.9 L556.9,305.3 L565.2,304.7 L573.4,304.1 L581.7,303.6 L590.0,303.1 L598.3,302.6 L606.6,302.2 L614.9,301.8 L623.2,301.5 L631.5,301.2 L639.8,300.9 L648.0,300.7 L656.3,300.5 L664.6,300.4 L672.9,300.3 L681.2,300.2"/>
<path d="M349.6,328.3 L357.9,326.5 L366.2,325.0 L374.5,323.6 L382.8,322.3 L391.1,321.1 L399.4,319.9 L407.7,318.7 L416.0,317.6 L424.2,316.5 L432.5,315.5 L440.8,314.5 L449.1,313.5 L457.4,312.5 L465.7,311.6 L474.0,310.8 L482.3,309.9 L490.6,309.1 L498.8,308.3 L507.1,307.6 L515.4,306.9 L523.7,306.2 L532.0,305.6 L540.3,305.0 L548.6,304.4 L556.9,303.9 L565.2,303.4 L573.4,302.9 L581.7,302.5 L590.0,302.1 L598.3,301.7 L606.6,301.4 L614.9,301.1 L623.2,300.9 L631.5,300.7 L639.8,300.5 L648.0,300.3 L656.3,300.2 L664.6,300.1 L672.9,300.1 L681.2,300.1"/>
<path d="M349.6,328.3 L357.9,327.3 L366.2,326.3 L374.5,325.3 L382.8,324.3 L391.1,323.2 L399.4,322.2 L407.7,321.2 L416.0,320.1 L424.2,319.1 L432.5,318.1 L440.8,317.1 L449.1,316.1 L457.4,315.0 L465.7,314.0 L474.0,313.0 L482.3,312.1 L490.6,311.1 L498.8,310.1 L507.1,309.2 L515.4,308.4 L523.7,307.5 L532.0,306.7 L540.3,306.0 L548.6,305.3 L556.9,304.7 L565.2,304.1 L573.4,303.6 L581.7,303.1 L590.0,302.7 L598.3,302.3 L606.6,301.9 L614.9,301.6 L623.2,301.4 L631.5,301.1 L639.8,300.9 L648.0,300.7 L656.3,300.5 L664.6,300.3 L672.9,300.2 L681.2,300.1"/>
<path d="M349.6,328.3 L357.9,327.6 L366.2,326.7 L374.5,325.8 L382.8,324.8 L391.1,323.9 L399.4,322.9 L407.7,321.9 L416.0,321.0 L424.2,320.0 L432.5,319.0 L440.8,318.0 L449.1,317.0 L457.4,316.0 L465.7,314.9 L474.0,313.9 L482.3,312.9 L490.6,311.9 L498.8,310.9 L507.1,310.0 L515.4,309.0 L523.7,308.1 L532.0,307.2 L540.3,306.4 L548.6,305.6 L556.9,304.8 L565.2,304.1 L573.4,303.5 L581.7,303.0 L590.0,302.4 L598.3,302.0 L606.6,301.6 L614.9,301.3 L623.2,301.0 L631.5,300.7 L639.8,300.5 L648.0,300.3 L656.3,300.2 L664.6,300.0 L672.9,299.9 L681.2,299.9"/>
<path d="M349.6,328.3 L357.9,326.8 L366.2,325.4 L374.5,324.1 L382.8,322.8 L391.1,321.6 L399.4,320.4 L407.7,319.3 L416.0,318.1 L424.2,317.0 L432.5,316.0 L440.8,314.9 L449.1,313.9 L457.4,313.0 L465.7,312.0 L474.0,311.1 L482.3,310.2 L490.6,309.3 L498.8,308.5 L507.1,307.7 L515.4,306.9 L523.7,306.2 L532.0,305.5 L540.3,304.8 L548.6,304.1 L556.9,303.5 L565.2,303.0 L573.4,302.5 L581.7,302.0 L590.0,301.5 L598.3,301.1 L606.6,300.8 L614.9,300.5 L623.2,300.2 L631.5,300.0 L639.8,299.8 L648.0,299.6 L656.3,299.5 L664.6,299.5 L672.9,299.4 L681.2,299.4"/>
<path d="M349.6,328.3 L357.9,327.5 L366.2,326.6 L374.5,325.6 L382.8,324.6 L391.1,323.6 L399.4,322.6 L407.7,321.6 L416.0,320.6 L424.2,319.5 L432.5,318.5 L440.8,317.4 L449.1,316.4 L457.4,315.3 L465.7,314.3 L474.0,313.2 L482.3,312.2 L490.6,311.2 L498.8,310.2 L507.1,309.3 L515.4,308.3 L523.7,307.5 L532.0,306.6 L540.3,305.8 L548.6,305.1 L556.9,304.4 L565.2,303.8 L573.4,303.2 L581.7,302.6 L590.0,302.2 L598.3,301.7 L606.6,301.3 L614.9,300.9 L623.2,300.6 L631.5,300.3 L639.8,300.0 L648.0,299.8 L656.3,299.5 L664.6,299.3 L672.9,299.2 L681.2,299.1"/>
<path d="M349.6,328.3 L357.9,327.4 L366.2,326.4 L374.5,325.4 L382.8,324.3 L391.1,323.3 L399.4,322.2 L407.7,321.1 L416.0,320.1 L424.2,319.0 L432.5,317.9 L440.8,316.9 L449.1,315.8 L457.4,314.8 L465.7,313.7 L474.0,312.7 L482.3,311.8 L490.6,310.8 L498.8,309.9 L507.1,308.9 L515.4,308.1 L523.7,307.2 L532.0,306.4 L540.3,305.6 L548.6,304.9 L556.9,304.1 L565.2,303.5 L573.4,302.8 L581.7,302.2 L590.0,301.7 L598.3,301.2 L606.6,300.7 L614.9,300.3 L623.2,299.9 L631.5,299.6 L639.8,299.3 L648.0,299.0 L656.3,298.8 L664.6,298.7 L672.9,298.6 L681.2,298.6"/>
<path d="M349.6,328.3 L357.9,327.4 L366.2,326.4 L374.5,325.3 L382.8,324.3 L391.1,323.2 L399.4,322.1 L407.7,321.1 L416.0,320.0 L424.2,318.9 L432.5,317.8 L440.8,316.7 L449.1,315.7 L457.4,314.6 L465.7,313.5 L474.0,312.5 L482.3,311.4 L490.6,310.4 L498.8,309.4 L507.1,308.5 L515.4,307.6 L523.7,306.7 L532.0,305.8 L540.3,305.0 L548.6,304.3 L556.9,303.6 L565.2,303.0 L573.4,302.4 L581.7,301.9 L590.0,301.4 L598.3,300.9 L606.6,300.5 L614.9,300.2 L623.2,299.8 L631.5,299.5 L639.8,299.3 L648.0,299.0 L656.3,298.8 L664.6,298.6 L672.9,298.5 L681.2,298.4"/>
<path d="M349.6,328.3 L357.9,327.4 L366.2,326.4 L374.5,325.3 L382.8,324.2 L391.1,323.2 L399.4,322.1 L407.7,321.0 L416.0,319.9 L424.2,318.8 L432.5,317.7 L440.8,316.6 L449.1,315.5 L457.4,314.4 L465.7,313.4 L474.0,312.4 L482.3,311.4 L490.6,310.4 L498.8,309.5 L507.1,308.6 L515.4,307.7 L523.7,306.9 L532.0,306.1 L540.3,305.3 L548.6,304.5 L556.9,303.8 L565.2,303.1 L573.4,302.5 L581.7,301.9 L590.0,301.3 L598.3,300.8 L606.6,300.2 L614.9,299.8 L623.2,299.4 L631.5,299.0 L639.8,298.7 L648.0,298.4 L656.3,298.2 L664.6,298.0 L672.9,297.9 L681.2,297.9"/>
<path d="M349.6,328.3 L357.9,326.9 L366.2,325.6 L374.5,324.3 L382.8,323.1 L391.1,321.8 L399.4,320.6 L407.7,319.4 L416.0,318.2 L424.2,317.0 L432.5,315.9 L440.8,314.8 L449.1,313.7 L457.4,312.6 L465.7,311.6 L474.0,310.6 L482.3,309.7 L490.6,308.8 L498.8,307.9 L507.1,307.0 L515.4,306.2 L523.7,305.4 L532.0,304.7 L540.3,303.9 L548.6,303.2 L556.9,302.6 L565.2,301.9 L573.4,301.3 L581.7,300.7 L590.0,300.2 L598.3,299.7 L606.6,299.2 L614.9,298.8 L623.2,298.5 L631.5,298.1 L639.8,297.9 L648.0,297.7 L656.3,297.5 L664.6,297.4 L672.9,297.4 L681.2,297.4"/>
<path d="M349.6,328.3 L357.9,326.6 L366.2,325.1 L374.5,323.6 L382.8,322.3 L391.1,320.9 L399.4,319.6 L407.7,318.4 L416.0,317.2 L424.2,316.0 L432.5,314.8 L440.8,313.7 L449.1,312.6 L457.4,311.6 L465.7,310.6 L474.0,309.6 L482.3,308.7 L490.6,307.8 L498.8,306.9 L507.1,306.0 L515.4,305.2 L523.7,304.4 L532.0,303.7 L540.3,303.0 L548.6,302.3 L556.9,301.7 L565.2,301.1 L573.4,300.6 L581.7,300.1 L590.0,299.6 L598.3,299.2 L606.6,298.8 L614.9,298.5 L623.2,298.2 L631.5,297.9 L639.8,297.7 L648.0,297.6 L656.3,297.4 L664.6,297.4 L672.9,297.3 L681.2,297.3"/>
<path d="M349.6,328.3 L357.9,327.3 L366.2,326.3 L374.5,325.2 L382.8,324.1 L391.1,323.0 L399.4,321.8 L407.7,320.7 L416.0,319.6 L424.2,318.4 L432.5,317.3 L440.8,316.2 L449.1,315.1 L457.4,314.0 L465.7,312.9 L474.0,311.8 L482.3,310.8 L490.6,309.8 L498.8,308.8 L507.1,307.8 L515.4,306.9 L523.7,306.0 L532.0,305.1 L540.3,304.3 L548.6,303.5 L556.9,302.8 L565.2,302.0 L573.4,301.4 L581.7,300.7 L590.0,300.1 L598.3,299.5 L606.6,299.0 L614.9,298.6 L623.2,298.1 L631.5,297.8 L639.8,297.5 L648.0,297.2 L656.3,297.0 L664.6,296.9 L672.9,296.8 L681.2,296.7"/>
<path d="M349.6,328.3 L357.9,327.2 L366.2,326.0 L374.5,324.9 L382.8,323.7 L391.1,322.5 L399.4,321.3 L407.7,320.1 L416.0,319.0 L424.2,317.8 L432.5,316.6 L440.8,315.5 L449.1,314.3 L457.4,313.2 L465.7,312.1 L474.0,311.0 L482.3,310.0 L490.6,308.9 L498.8,307.9 L507.1,307.0 L515.4,306.0 L523.7,305.1 L532.0,304.3 L540.3,303.5 L548.6,302.7 L556.9,302.0 L565.2,301.3 L573.4,300.7 L581.7,300.1 L590.0,299.6 L598.3,299.1 L606.6,298.7 L614.9,298.2 L623.2,297.9 L631.5,297.5 L639.8,297.2 L648.0,297.0 L656.3,296.8 L664.6,296.6 L672.9,296.5 L681.2,296.4"/>
<path d="M349.6,328.3 L357.9,326.2 L366.2,324.6 L374.5,323.0 L382.8,321.5 L391.1,320.1 L399.4,318.8 L407.7,317.4 L416.0,316.2 L424.2,314.9 L432.5,313.7 L440.8,312.5 L449.1,311.3 L457.4,310.2 L465.7,309.2 L474.0,308.1 L482.3,307.1 L490.6,306.2 L498.8,305.3 L507.1,304.5 L515.4,303.7 L523.7,303.0 L532.0,302.4 L540.3,301.8 L548.6,301.2 L556.9,300.7 L565.2,300.3 L573.4,299.8 L581.7,299.4 L590.0,299.0 L598.3,298.7 L606.6,298.3 L614.9,297.9 L623.2,297.6 L631.5,297.3 L639.8,297.0 L648.0,296.7 L656.3,296.4 L664.6,296.2 L672.9,296.0 L681.2,295.9"/>
<path d="M349.6,328.3 L357.9,327.4 L366.2,326.4 L374.5,325.4 L382.8,324.3 L391.1,323.2 L399.4,322.0 L407.7,320.9 L416.0,319.7 L424.2,318.5 L432.5,317.4 L440.8,316.2 L449.1,315.1 L457.4,313.9 L465.7,312.8 L474.0,311.7 L482.3,310.6 L490.6,309.6 L498.8,308.6 L507.1,307.6 L515.4,306.6 L523.7,305.7 L532.0,304.8 L540.3,303.9 L548.6,303.1 L556.9,302.3 L565.2,301.5 L573.4,300.8 L581.7,300.0 L590.0,299.4 L598.3,298.7 L606.6,298.1 L614.9,297.6 L623.2,297.1 L631.5,296.7 L639.8,296.3 L648.0,296.0 L656.3,295.8 L664.6,295.6 L672.9,295.5 L681.2,295.5"/>
<path d="M349.6,328.3 L357.9,326.5 L366.2,324.9 L374.5,323.5 L382.8,322.0 L391.1,320.6 L399.4,319.3 L407.7,317.9 L416.0,316.7 L424.2,315.4 L432.5,314.2 L440.8,313.0 L449.1,311.9 L457.4,310.7 L465.7,309.6 L474.0,308.6 L482.3,307.6 L490.6,306.6 L498.8,305.6 L507.1,304.7 L515.4,303.8 L523.7,303.0 L532.0,302.2 L540.3,301.4 L548.6,300.7 L556.9,300.0 L565.2,299.4 L573.4,298.8 L581.7,298.2 L590.0,297.8 L598.3,297.3 L606.6,296.9 L614.9,296.6 L623.2,296.3 L631.5,296.1 L639.8,295.8 L648.0,295.7 L656.3,295.6 L664.6,295.5 L672.9,295.4 L681.2,295.4"/>
<path d="M349.6,328.3 L357.9,327.0 L366.2,325.8 L374.5,324.5 L382.8,323.2 L391.1,322.0 L399.4,320.7 L407.7,319.5 L416.0,318.2 L424.2,317.0 L432.5,315.8 L440.8,314.6 L449.1,313.4 L457.4,312.3 L465.7,311.1 L474.0,310.0 L482.3,308.9 L490.6,307.8 L498.8,306.8 L507.1,305.8 L515.4,304.8 L523.7,303.9 L532.0,303.0 L540.3,302.2 L548.6,301.4 L556.9,300.6 L565.2,299.9 L573.4,299.3 L581.7,298.7 L590.0,298.1 L598.3,297.6 L606.6,297.1 L614.9,296.7 L623.2,296.4 L631.5,296.1 L639.8,295.8 L648.0,295.6 L656.3,295.4 L664.6,295.2 L672.9,295.1 L681.2,295.1"/>
<path d="M349.6,328.3 L357.9,327.4 L366.2,326.3 L374.5,325.2 L382.8,324.1 L391.1,322.9 L399.4,321.8 L407.7,320.6 L416.0,319.4 L424.2,318.2 L432.5,317.0 L440.8,315.8 L449.1,314.6 L457.4,313.4 L465.7,312.3 L474.0,311.1 L482.3,309.9 L490.6,308.8 L498.8,307.7 L507.1,306.6 L515.4,305.6 L523.7,304.6 L532.0,303.6 L540.3,302.7 L548.6,301.8 L556.9,301.0 L565.2,300.2 L573.4,299.5 L581.7,298.8 L590.0,298.2 L598.3,297.6 L606.6,297.1 L614.9,296.7 L623.2,296.3 L631.5,295.9 L639.8,295.6 L648.0,295.3 L656.3,295.1 L664.6,294.9 L672.9,294.7 L681.2,294.7"/>
<path d="M349.6,328.3 L357.9,327.4 L366.2,326.3 L374.5,325.1 L382.8,324.0 L391.1,322.8 L399.4,321.6 L407.7,320.3 L416.0,319.1 L424.2,317.9 L432.5,316.6 L440.8,315.4 L449.1,314.2 L457.4,313.0 L465.7,311.8 L474.0,310.7 L482.3,309.6 L490.6,308.5 L498.8,307.4 L507.1,306.4 L515.4,305.4 L523.7,304.4 L532.0,303.4 L540.3,302.5 L548.6,301.6 L556.9,300.7 L565.2,299.9 L573.4,299.1 L581.7,298.4 L590.0,297.7 L598.3,297.0 L606.6,296.4 L614.9,295.8 L623.2,295.3 L631.5,294.9 L639.8,294.5 L648.0,294.2 L656.3,294.0 L664.6,293.8 L672.9,293.7 L681.2,293.7"/>
<path d="M349.6,328.3 L357.9,326.9 L366.2,325.5 L374.5,324.2 L382.8,322.8 L391.1,321.4 L399.4,320.1 L407.7,318.8 L416.0,317.4 L424.2,316.2 L432.5,314.9 L440.8,313.7 L449.1,312.4 L457.4,311.3 L465.7,310.1 L474.0,309.0 L482.3,307.9 L490.6,306.9 L498.8,305.8 L507.1,304.8 L515.4,303.8 L523.7,302.9 L532.0,302.0 L540.3,301.1 L548.6,300.2 L556.9,299.4 L565.2,298.6 L573.4,297.9 L581.7,297.2 L590.0,296.5 L598.3,295.9 L606.6,295.4 L614.9,294.9 L623.2,294.5 L631.5,294.1 L639.8,293.9 L648.0,293.7 L656.3,293.5 L664.6,293.5 L672.9,293.5 L681.2,293.5"/>
<path d="M349.6,328.3 L357.9,326.4 L366.2,324.7 L374.5,323.0 L382.8,321.5 L391.1,320.0 L399.4,318.5 L407.7,317.1 L416.0,315.7 L424.2,314.4 L432.5,313.1 L440.8,311.8 L449.1,310.6 L457.4,309.4 L465.7,308.2 L474.0,307.1 L482.3,306.0 L490.6,305.0 L498.8,304.0 L507.1,303.0 L515.4,302.1 L523.7,301.2 L532.0,300.4 L540.3,299.6 L548.6,298.8 L556.9,298.1 L565.2,297.5 L573.4,296.9 L581.7,296.3 L590.0,295.8 L598.3,295.3 L606.6,294.9 L614.9,294.5 L623.2,294.1 L631.5,293.8 L639.8,293.6 L648.0,293.4 L656.3,293.2 L664.6,293.1 L672.9,293.0 L681.2,293.0"/>
<path d="M349.6,328.3 L357.9,326.8 L366.2,325.4 L374.5,323.9 L382.8,322.5 L391.1,321.2 L399.4,319.8 L407.7,318.4 L416.0,317.1 L424.2,315.7 L432.5,314.4 L440.8,313.1 L449.1,311.8 L457.4,310.5 L465.7,309.3 L474.0,308.1 L482.3,306.9 L490.6,305.7 L498.8,304.6 L507.1,303.6 L515.4,302.6 L523.7,301.6 L532.0,300.7 L540.3,299.9 L548.6,299.1 L556.9,298.4 L565.2,297.7 L573.4,297.1 L581.7,296.6 L590.0,296.0 L598.3,295.6 L606.6,295.1 L614.9,294.7 L623.2,294.3 L631.5,294.0 L639.8,293.6 L648.0,293.3 L656.3,293.1 L664.6,292.8 L672.9,292.7 L681.2,292.5"/>
<path d="M349.6,328.3 L357.9,326.9 L366.2,325.4 L374.5,324.0 L382.8,322.6 L391.1,321.2 L399.4,319.8 L407.7,318.4 L416.0,317.0 L424.2,315.6 L432.5,314.2 L440.8,312.9 L449.1,311.6 L457.4,310.3 L465.7,309.1 L474.0,307.9 L482.3,306.7 L490.6,305.6 L498.8,304.6 L507.1,303.5 L515.4,302.6 L523.7,301.6 L532.0,300.7 L540.3,299.9 L548.6,299.1 L556.9,298.3 L565.2,297.6 L573.4,296.9 L581.7,296.2 L590.0,295.6 L598.3,295.0 L606.6,294.4 L614.9,293.9 L623.2,293.4 L631.5,293.0 L639.8,292.6 L648.0,292.2 L656.3,292.0 L664.6,291.8 L672.9,291.7 L681.2,291.6"/>
<path d="M349.6,328.3 L357.9,326.9 L366.2,325.5 L374.5,324.0 L382.8,322.6 L391.1,321.2 L399.4,319.8 L407.7,318.4 L416.0,317.1 L424.2,315.7 L432.5,314.4 L440.8,313.1 L449.1,311.8 L457.4,310.5 L465.7,309.3 L474.0,308.0 L482.3,306.9 L490.6,305.7 L498.8,304.6 L507.1,303.5 L515.4,302.4 L523.7,301.4 L532.0,300.4 L540.3,299.4 L548.6,298.5 L556.9,297.7 L565.2,296.9 L573.4,296.2 L581.7,295.5 L590.0,294.9 L598.3,294.3 L606.6,293.8 L614.9,293.3 L623.2,293.0 L631.5,292.6 L639.8,292.3 L648.0,292.1 L656.3,292.0 L664.6,291.8 L672.9,291.8 L681.2,291.7"/>
<path d="M349.6,328.3 L357.9,326.8 L366.2,325.3 L374.5,323.8 L382.8,322.3 L391.1,320.9 L399.4,319.4 L407.7,318.0 L416.0,316.5 L424.2,315.1 L432.5,313.7 L440.8,312.3 L449.1,311.0 L457.4,309.6 L465.7,308.4 L474.0,307.1 L482.3,305.9 L490.6,304.7 L498.8,303.6 L507.1,302.6 L515.4,301.6 L523.7,300.6 L532.0,299.7 L540.3,298.8 L548.6,298.0 L556.9,297.2 L565.2,296.4 L573.4,295.7 L581.7,295.0 L590.0,294.4 L598.3,293.8 L606.6,293.2 L614.9,292.7 L623.2,292.2 L631.5,291.7 L639.8,291.3 L648.0,291.0 L656.3,290.7 L664.6,290.5 L672.9,290.3 L681.2,290.3"/>
<path d="M349.6,328.3 L357.9,326.7 L366.2,325.1 L374.5,323.5 L382.8,322.0 L391.1,320.5 L399.4,319.0 L407.7,317.5 L416.0,316.1 L424.2,314.7 L432.5,313.3 L440.8,311.9 L449.1,310.5 L457.4,309.1 L465.7,307.8 L474.0,306.5 L482.3,305.3 L490.6,304.0 L498.8,302.9 L507.1,301.7 L515.4,300.6 L523.7,299.6 L532.0,298.6 L540.3,297.7 L548.6,296.9 L556.9,296.1 L565.2,295.4 L573.4,294.7 L581.7,294.1 L590.0,293.5 L598.3,293.0 L606.6,292.6 L614.9,292.2 L623.2,291.8 L631.5,291.4 L639.8,291.1 L648.0,290.8 L656.3,290.6 L664.6,290.4 L672.9,290.2 L681.2,290.1"/>
<path d="M349.6,328.3 L357.9,327.0 L366.2,325.6 L374.5,324.2 L382.8,322.8 L391.1,321.4 L399.4,320.0 L407.7,318.6 L416.0,317.1 L424.2,315.7 L432.5,314.3 L440.8,312.9 L449.1,311.5 L457.4,310.2 L465.7,308.8 L474.0,307.5 L482.3,306.2 L490.6,304.9 L498.8,303.7 L507.1,302.5 L515.4,301.4 L523.7,300.3 L532.0,299.2 L540.3,298.3 L548.6,297.3 L556.9,296.5 L565.2,295.7 L573.4,294.9 L581.7,294.2 L590.0,293.6 L598.3,293.0 L606.6,292.4 L614.9,291.9 L623.2,291.5 L631.5,291.1 L639.8,290.7 L648.0,290.4 L656.3,290.1 L664.6,289.9 L672.9,289.7 L681.2,289.6"/>
<path d="M349.6,328.3 L357.9,327.3 L366.2,326.1 L374.5,324.8 L382.8,323.5 L391.1,322.1 L399.4,320.7 L407.7,319.3 L416.0,317.9 L424.2,316.5 L432.5,315.1 L440.8,313.7 L449.1,312.3 L457.4,310.9 L465.7,309.6 L474.0,308.3 L482.3,307.0 L490.6,305.7 L498.8,304.5 L507.1,303.4 L515.4,302.2 L523.7,301.1 L532.0,300.1 L540.3,299.0 L548.6,298.0 L556.9,297.0 L565.2,296.1 L573.4,295.2 L581.7,294.3 L590.0,293.4 L598.3,292.6 L606.6,291.9 L614.9,291.2 L623.2,290.6 L631.5,290.0 L639.8,289.5 L648.0,289.1 L656.3,288.8 L664.6,288.6 L672.9,288.5 L681.2,288.5"/>
<path d="M349.6,328.3 L357.9,326.2 L366.2,324.4 L374.5,322.6 L382.8,320.9 L391.1,319.2 L399.4,317.5 L407.7,315.9 L416.0,314.3 L424.2,312.8 L432.5,311.3 L440.8,309.8 L449.1,308.4 L457.4,307.1 L465.7,305.8 L474.0,304.5 L482.3,303.3 L490.6,302.2 L498.8,301.0 L507.1,300.0 L515.4,299.0 L523.7,298.0 L532.0,297.0 L540.3,296.1 L548.6,295.2 L556.9,294.4 L565.2,293.6 L573.4,292.8 L581.7,292.1 L590.0,291.4 L598.3,290.8 L606.6,290.2 L614.9,289.6 L623.2,289.2 L631.5,288.8 L639.8,288.4 L648.0,288.2 L656.3,288.0 L664.6,287.9 L672.9,287.8 L681.2,287.9"/>
<path d="M349.6,328.3 L357.9,325.9 L366.2,323.9 L374.5,322.0 L382.8,320.2 L391.1,318.5 L399.4,316.8 L407.7,315.1 L416.0,313.5 L424.2,312.0 L432.5,310.4 L440.8,309.0 L449.1,307.6 L457.4,306.2 L465.7,304.8 L474.0,303.5 L482.3,302.3 L490.6,301.1 L498.8,299.9 L507.1,298.8 L515.4,297.8 L523.7,296.8 L532.0,295.8 L540.3,294.9 L548.6,294.1 L556.9,293.3 L565.2,292.5 L573.4,291.8 L581.7,291.2 L590.0,290.6 L598.3,290.1 L606.6,289.6 L614.9,289.2 L623.2,288.8 L631.5,288.5 L639.8,288.2 L648.0,288.0 L656.3,287.8 L664.6,287.7 L672.9,287.6 L681.2,287.6"/>
<path d="M349.6,328.3 L357.9,326.2 L366.2,324.2 L374.5,322.4 L382.8,320.6 L391.1,318.9 L399.4,317.2 L407.7,315.6 L416.0,314.0 L424.2,312.4 L432.5,310.9 L440.8,309.4 L449.1,308.0 L457.4,306.6 L465.7,305.2 L474.0,303.9 L482.3,302.6 L490.6,301.4 L498.8,300.2 L507.1,299.1 L515.4,298.0 L523.7,297.0 L532.0,296.0 L540.3,295.1 L548.6,294.2 L556.9,293.4 L565.2,292.6 L573.4,291.9 L581.7,291.2 L590.0,290.6 L598.3,290.0 L606.6,289.5 L614.9,289.0 L623.2,288.6 L631.5,288.3 L639.8,288.0 L648.0,287.7 L656.3,287.5 L664.6,287.3 L672.9,287.3 L681.2,287.2"/>
<path d="M349.6,328.3 L357.9,327.1 L366.2,325.8 L374.5,324.4 L382.8,323.0 L391.1,321.5 L399.4,320.0 L407.7,318.6 L416.0,317.0 L424.2,315.5 L432.5,314.0 L440.8,312.5 L449.1,311.0 L457.4,309.6 L465.7,308.1 L474.0,306.7 L482.3,305.3 L490.6,303.9 L498.8,302.6 L507.1,301.2 L515.4,300.0 L523.7,298.8 L532.0,297.6 L540.3,296.5 L548.6,295.4 L556.9,294.3 L565.2,293.4 L573.4,292.4 L581.7,291.6 L590.0,290.7 L598.3,290.0 L606.6,289.3 L614.9,288.7 L623.2,288.1 L631.5,287.6 L639.8,287.1 L648.0,286.8 L656.3,286.5 L664.6,286.2 L672.9,286.1 L681.2,286.0"/>
<path d="M349.6,328.3 L357.9,325.9 L366.2,323.7 L374.5,321.7 L382.8,319.8 L391.1,317.9 L399.4,316.1 L407.7,314.4 L416.0,312.7 L424.2,311.0 L432.5,309.4 L440.8,307.9 L449.1,306.4 L457.4,305.0 L465.7,303.6 L474.0,302.3 L482.3,301.1 L490.6,299.9 L498.8,298.8 L507.1,297.7 L515.4,296.7 L523.7,295.7 L532.0,294.7 L540.3,293.8 L548.6,292.9 L556.9,292.0 L565.2,291.1 L573.4,290.3 L581.7,289.5 L590.0,288.8 L598.3,288.1 L606.6,287.4 L614.9,286.8 L623.2,286.3 L631.5,285.9 L639.8,285.5 L648.0,285.3 L656.3,285.1 L664.6,285.0 L672.9,285.1 L681.2,285.2"/>
<path d="M349.6,328.3 L357.9,327.2 L366.2,325.8 L374.5,324.5 L382.8,323.0 L391.1,321.6 L399.4,320.1 L407.7,318.6 L416.0,317.1 L424.2,315.5 L432.5,314.0 L440.8,312.5 L449.1,311.0 L457.4,309.4 L465.7,307.9 L474.0,306.4 L482.3,304.9 L490.6,303.5 L498.8,302.1 L507.1,300.7 L515.4,299.3 L523.7,298.0 L532.0,296.8 L540.3,295.6 L548.6,294.5 L556.9,293.4 L565.2,292.4 L573.4,291.5 L581.7,290.6 L590.0,289.8 L598.3,289.1 L606.6,288.4 L614.9,287.8 L623.2,287.3 L631.5,286.8 L639.8,286.3 L648.0,286.0 L656.3,285.7 L664.6,285.4 L672.9,285.2 L681.2,285.1"/>
<path d="M349.6,328.3 L357.9,327.0 L366.2,325.5 L374.5,324.0 L382.8,322.5 L391.1,320.9 L399.4,319.3 L407.7,317.7 L416.0,316.1 L424.2,314.5 L432.5,312.9 L440.8,311.4 L449.1,309.8 L457.4,308.2 L465.7,306.7 L474.0,305.2 L482.3,303.7 L490.6,302.2 L498.8,300.8 L507.1,299.4 L515.4,298.1 L523.7,296.8 L532.0,295.5 L540.3,294.3 L548.6,293.2 L556.9,292.1 L565.2,291.1 L573.4,290.2 L581.7,289.3 L590.0,288.4 L598.3,287.7 L606.6,287.0 L614.9,286.4 L623.2,285.8 L631.5,285.3 L639.8,284.9 L648.0,284.6 L656.3,284.3 L664.6,284.1 L672.9,284.0 L681.2,283.9"/>
<path d="M349.6,328.3 L357.9,326.2 L366.2,324.2 L374.5,322.3 L382.8,320.4 L391.1,318.5 L399.4,316.7 L407.7,315.0 L416.0,313.3 L424.2,311.6 L432.5,309.9 L440.8,308.3 L449.1,306.7 L457.4,305.2 L465.7,303.7 L474.0,302.2 L482.3,300.8 L490.6,299.4 L498.8,298.1 L507.1,296.8 L515.4,295.6 L523.7,294.4 L532.0,293.3 L540.3,292.2 L548.6,291.2 L556.9,290.2 L565.2,289.3 L573.4,288.5 L581.7,287.7 L590.0,287.0 L598.3,286.4 L606.6,285.8 L614.9,285.3 L623.2,284.9 L631.5,284.5 L639.8,284.2 L648.0,284.0 L656.3,283.8 L664.6,283.6 L672.9,283.5 L681.2,283.5"/>
<path d="M349.6,328.3 L357.9,325.3 L366.2,322.9 L374.5,320.7 L382.8,318.6 L391.1,316.5 L399.4,314.6 L407.7,312.7 L416.0,310.9 L424.2,309.2 L432.5,307.5 L440.8,305.9 L449.1,304.3 L457.4,302.7 L465.7,301.2 L474.0,299.7 L482.3,298.3 L490.6,297.0 L498.8,295.7 L507.1,294.4 L515.4,293.2 L523.7,292.1 L532.0,291.1 L540.3,290.1 L548.6,289.2 L556.9,288.3 L565.2,287.6 L573.4,286.9 L581.7,286.3 L590.0,285.7 L598.3,285.2 L606.6,284.8 L614.9,284.4 L623.2,284.1 L631.5,283.8 L639.8,283.5 L648.0,283.3 L656.3,283.1 L664.6,282.9 L672.9,282.8 L681.2,282.7"/>
<path d="M349.6,328.3 L357.9,326.1 L366.2,324.1 L374.5,322.1 L382.8,320.2 L391.1,318.3 L399.4,316.5 L407.7,314.7 L416.0,312.9 L424.2,311.1 L432.5,309.4 L440.8,307.7 L449.1,306.1 L457.4,304.5 L465.7,302.9 L474.0,301.3 L482.3,299.8 L490.6,298.4 L498.8,297.0 L507.1,295.6 L515.4,294.4 L523.7,293.1 L532.0,292.0 L540.3,291.0 L548.6,290.0 L556.9,289.1 L565.2,288.2 L573.4,287.5 L581.7,286.8 L590.0,286.1 L598.3,285.5 L606.6,285.0 L614.9,284.5 L623.2,284.1 L631.5,283.7 L639.8,283.3 L648.0,283.0 L656.3,282.7 L664.6,282.5 L672.9,282.3 L681.2,282.1"/>
<path d="M349.6,328.3 L357.9,327.1 L366.2,325.7 L374.5,324.2 L382.8,322.6 L391.1,321.0 L399.4,319.4 L407.7,317.7 L416.0,316.0 L424.2,314.3 L432.5,312.7 L440.8,311.0 L449.1,309.4 L457.4,307.8 L465.7,306.2 L474.0,304.6 L482.3,303.1 L490.6,301.7 L498.8,300.2 L507.1,298.8 L515.4,297.4 L523.7,296.1 L532.0,294.7 L540.3,293.4 L548.6,292.1 L556.9,290.9 L565.2,289.7 L573.4,288.5 L581.7,287.4 L590.0,286.3 L598.3,285.3 L606.6,284.4 L614.9,283.6 L623.2,282.8 L631.5,282.2 L639.8,281.7 L648.0,281.3 L656.3,281.0 L664.6,280.8 L672.9,280.8 L681.2,280.9"/>
<path d="M349.6,328.3 L357.9,325.9 L366.2,323.6 L374.5,321.5 L382.8,319.5 L391.1,317.5 L399.4,315.5 L407.7,313.6 L416.0,311.7 L424.2,309.9 L432.5,308.1 L440.8,306.4 L449.1,304.7 L457.4,303.1 L465.7,301.5 L474.0,300.0 L482.3,298.5 L490.6,297.0 L498.8,295.7 L507.1,294.3 L515.4,293.1 L523.7,291.8 L532.0,290.7 L540.3,289.6 L548.6,288.5 L556.9,287.6 L565.2,286.6 L573.4,285.8 L581.7,285.0 L590.0,284.2 L598.3,283.6 L606.6,282.9 L614.9,282.4 L623.2,281.9 L631.5,281.5 L639.8,281.1 L648.0,280.8 L656.3,280.6 L664.6,280.4 L672.9,280.3 L681.2,280.3"/>
<path d="M349.6,328.3 L357.9,325.5 L366.2,323.0 L374.5,320.7 L382.8,318.5 L391.1,316.4 L399.4,314.3 L407.7,312.3 L416.0,310.4 L424.2,308.5 L432.5,306.7 L440.8,304.9 L449.1,303.2 L457.4,301.6 L465.7,300.0 L474.0,298.5 L482.3,297.0 L490.6,295.6 L498.8,294.3 L507.1,293.0 L515.4,291.8 L523.7,290.6 L532.0,289.5 L540.3,288.5 L548.6,287.5 L556.9,286.5 L565.2,285.6 L573.4,284.7 L581.7,283.9 L590.0,283.1 L598.3,282.4 L606.6,281.8 L614.9,281.2 L623.2,280.6 L631.5,280.2 L639.8,279.8 L648.0,279.5 L656.3,279.2 L664.6,279.1 L672.9,279.0 L681.2,279.0"/>
<path d="M349.6,328.3 L357.9,325.7 L366.2,323.4 L374.5,321.2 L382.8,319.0 L391.1,316.9 L399.4,314.9 L407.7,312.8 L416.0,310.9 L424.2,309.0 L432.5,307.1 L440.8,305.3 L449.1,303.5 L457.4,301.8 L465.7,300.2 L474.0,298.6 L482.3,297.0 L490.6,295.5 L498.8,294.1 L507.1,292.7 L515.4,291.4 L523.7,290.1 L532.0,288.9 L540.3,287.8 L548.6,286.7 L556.9,285.7 L565.2,284.7 L573.4,283.8 L581.7,282.9 L590.0,282.1 L598.3,281.4 L606.6,280.7 L614.9,280.1 L623.2,279.6 L631.5,279.1 L639.8,278.8 L648.0,278.4 L656.3,278.2 L664.6,278.0 L672.9,277.9 L681.2,277.9"/>
<path d="M349.6,328.3 L357.9,326.6 L366.2,324.8 L374.5,322.9 L382.8,321.0 L391.1,319.2 L399.4,317.3 L407.7,315.4 L416.0,313.5 L424.2,311.7 L432.5,309.8 L440.8,308.0 L449.1,306.2 L457.4,304.4 L465.7,302.7 L474.0,301.0 L482.3,299.3 L490.6,297.7 L498.8,296.1 L507.1,294.6 L515.4,293.1 L523.7,291.7 L532.0,290.3 L540.3,288.9 L548.6,287.7 L556.9,286.4 L565.2,285.3 L573.4,284.2 L581.7,283.2 L590.0,282.3 L598.3,281.4 L606.6,280.6 L614.9,279.9 L623.2,279.3 L631.5,278.7 L639.8,278.3 L648.0,277.9 L656.3,277.6 L664.6,277.5 L672.9,277.3 L681.2,277.3"/>
<path d="M349.6,328.3 L357.9,326.0 L366.2,323.8 L374.5,321.7 L382.8,319.6 L391.1,317.5 L399.4,315.5 L407.7,313.4 L416.0,311.5 L424.2,309.5 L432.5,307.6 L440.8,305.7 L449.1,303.9 L457.4,302.1 L465.7,300.3 L474.0,298.6 L482.3,297.0 L490.6,295.4 L498.8,293.9 L507.1,292.4 L515.4,290.9 L523.7,289.6 L532.0,288.3 L540.3,287.0 L548.6,285.8 L556.9,284.7 L565.2,283.6 L573.4,282.6 L581.7,281.7 L590.0,280.8 L598.3,280.0 L606.6,279.3 L614.9,278.6 L623.2,278.1 L631.5,277.6 L639.8,277.1 L648.0,276.8 L656.3,276.5 L664.6,276.3 L672.9,276.2 L681.2,276.2"/>
<path d="M349.6,328.3 L357.9,326.7 L366.2,324.9 L374.5,323.1 L382.8,321.2 L391.1,319.3 L399.4,317.4 L407.7,315.5 L416.0,313.6 L424.2,311.7 L432.5,309.8 L440.8,307.9 L449.1,306.0 L457.4,304.2 L465.7,302.3 L474.0,300.6 L482.3,298.8 L490.6,297.1 L498.8,295.4 L507.1,293.8 L515.4,292.3 L523.7,290.7 L532.0,289.3 L540.3,287.9 L548.6,286.5 L556.9,285.3 L565.2,284.0 L573.4,282.9 L581.7,281.8 L590.0,280.8 L598.3,279.9 L606.6,279.0 L614.9,278.2 L623.2,277.5 L631.5,276.9 L639.8,276.4 L648.0,276.0 L656.3,275.7 L664.6,275.4 L672.9,275.3 L681.2,275.3"/>
<path d="M349.6,328.3 L357.9,326.8 L366.2,325.0 L374.5,323.2 L382.8,321.4 L391.1,319.5 L399.4,317.7 L407.7,315.8 L416.0,313.9 L424.2,312.0 L432.5,310.1 L440.8,308.2 L449.1,306.3 L457.4,304.5 L465.7,302.6 L474.0,300.8 L482.3,299.0 L490.6,297.2 L498.8,295.5 L507.1,293.7 L515.4,292.1 L523.7,290.5 L532.0,288.9 L540.3,287.4 L548.6,286.0 L556.9,284.7 L565.2,283.4 L573.4,282.3 L581.7,281.2 L590.0,280.2 L598.3,279.4 L606.6,278.6 L614.9,277.9 L623.2,277.3 L631.5,276.7 L639.8,276.3 L648.0,275.9 L656.3,275.7 L664.6,275.4 L672.9,275.3 L681.2,275.2"/>
<path d="M349.6,328.3 L357.9,326.8 L366.2,325.1 L374.5,323.3 L382.8,321.5 L391.1,319.6 L399.4,317.6 L407.7,315.7 L416.0,313.8 L424.2,311.8 L432.5,309.9 L440.8,308.0 L449.1,306.1 L457.4,304.2 L465.7,302.3 L474.0,300.5 L482.3,298.7 L490.6,296.9 L498.8,295.1 L507.1,293.4 L515.4,291.7 L523.7,290.1 L532.0,288.5 L540.3,286.9 L548.6,285.4 L556.9,284.0 L565.2,282.7 L573.4,281.4 L581.7,280.2 L590.0,279.1 L598.3,278.1 L606.6,277.2 L614.9,276.4 L623.2,275.7 L631.5,275.1 L639.8,274.6 L648.0,274.2 L656.3,273.9 L664.6,273.7 L672.9,273.6 L681.2,273.6"/>
<path d="M349.6,328.3 L357.9,325.4 L366.2,322.8 L374.5,320.3 L382.8,317.8 L391.1,315.5 L399.4,313.2 L407.7,311.0 L416.0,308.8 L424.2,306.7 L432.5,304.6 L440.8,302.6 L449.1,300.7 L457.4,298.8 L465.7,296.9 L474.0,295.1 L482.3,293.4 L490.6,291.7 L498.8,290.1 L507.1,288.6 L515.4,287.1 L523.7,285.7 L532.0,284.3 L540.3,283.0 L548.6,281.8 L556.9,280.7 L565.2,279.6 L573.4,278.6 L581.7,277.6 L590.0,276.8 L598.3,276.0 L606.6,275.3 L614.9,274.7 L623.2,274.1 L631.5,273.7 L639.8,273.3 L648.0,273.0 L656.3,272.7 L664.6,272.6 L672.9,272.5 L681.2,272.5"/>
<path d="M349.6,328.3 L357.9,325.2 L366.2,322.5 L374.5,320.0 L382.8,317.5 L391.1,315.1 L399.4,312.8 L407.7,310.5 L416.0,308.3 L424.2,306.2 L432.5,304.1 L440.8,302.1 L449.1,300.1 L457.4,298.2 L465.7,296.3 L474.0,294.5 L482.3,292.8 L490.6,291.1 L498.8,289.4 L507.1,287.9 L515.4,286.3 L523.7,284.9 L532.0,283.5 L540.3,282.2 L548.6,280.9 L556.9,279.8 L565.2,278.7 L573.4,277.7 L581.7,276.8 L590.0,276.0 L598.3,275.3 L606.6,274.6 L614.9,274.1 L623.2,273.6 L631.5,273.2 L639.8,272.8 L648.0,272.6 L656.3,272.4 L664.6,272.2 L672.9,272.1 L681.2,272.1"/>
<path d="M349.6,328.3 L357.9,325.4 L366.2,322.7 L374.5,320.2 L382.8,317.7 L391.1,315.3 L399.4,312.9 L407.7,310.6 L416.0,308.4 L424.2,306.2 L432.5,304.1 L440.8,302.0 L449.1,300.0 L457.4,298.1 L465.7,296.2 L474.0,294.3 L482.3,292.5 L490.6,290.8 L498.8,289.0 L507.1,287.4 L515.4,285.8 L523.7,284.2 L532.0,282.7 L540.3,281.3 L548.6,280.0 L556.9,278.7 L565.2,277.5 L573.4,276.3 L581.7,275.3 L590.0,274.4 L598.3,273.6 L606.6,272.8 L614.9,272.2 L623.2,271.7 L631.5,271.3 L639.8,271.0 L648.0,270.7 L656.3,270.6 L664.6,270.5 L672.9,270.5 L681.2,270.5"/>
<path d="M349.6,328.3 L357.9,324.5 L366.2,321.4 L374.5,318.5 L382.8,315.7 L391.1,313.1 L399.4,310.6 L407.7,308.1 L416.0,305.8 L424.2,303.5 L432.5,301.3 L440.8,299.2 L449.1,297.2 L457.4,295.3 L465.7,293.4 L474.0,291.6 L482.3,289.9 L490.6,288.2 L498.8,286.6 L507.1,285.1 L515.4,283.6 L523.7,282.2 L532.0,280.9 L540.3,279.6 L548.6,278.4 L556.9,277.3 L565.2,276.2 L573.4,275.2 L581.7,274.3 L590.0,273.4 L598.3,272.6 L606.6,271.9 L614.9,271.3 L623.2,270.8 L631.5,270.3 L639.8,269.9 L648.0,269.6 L656.3,269.4 L664.6,269.3 L672.9,269.3 L681.2,269.3"/>
<path d="M349.6,328.3 L357.9,326.0 L366.2,323.6 L374.5,321.3 L382.8,318.9 L391.1,316.6 L399.4,314.3 L407.7,312.0 L416.0,309.7 L424.2,307.5 L432.5,305.3 L440.8,303.1 L449.1,301.0 L457.4,298.9 L465.7,296.8 L474.0,294.8 L482.3,292.8 L490.6,290.9 L498.8,289.0 L507.1,287.2 L515.4,285.5 L523.7,283.8 L532.0,282.2 L540.3,280.7 L548.6,279.3 L556.9,278.0 L565.2,276.7 L573.4,275.5 L581.7,274.4 L590.0,273.4 L598.3,272.5 L606.6,271.7 L614.9,270.9 L623.2,270.3 L631.5,269.7 L639.8,269.2 L648.0,268.8 L656.3,268.4 L664.6,268.2 L672.9,268.0 L681.2,267.9"/>
<path d="M349.6,328.3 L357.9,324.6 L366.2,321.5 L374.5,318.6 L382.8,315.8 L391.1,313.2 L399.4,310.6 L407.7,308.2 L416.0,305.8 L424.2,303.4 L432.5,301.2 L440.8,298.9 L449.1,296.8 L457.4,294.6 L465.7,292.6 L474.0,290.6 L482.3,288.6 L490.6,286.7 L498.8,284.9 L507.1,283.1 L515.4,281.5 L523.7,279.9 L532.0,278.4 L540.3,277.0 L548.6,275.8 L556.9,274.6 L565.2,273.6 L573.4,272.7 L581.7,271.8 L590.0,271.1 L598.3,270.5 L606.6,269.9 L614.9,269.4 L623.2,269.0 L631.5,268.6 L639.8,268.3 L648.0,268.0 L656.3,267.7 L664.6,267.4 L672.9,267.2 L681.2,267.0"/>
<path d="M349.6,328.3 L357.9,326.5 L366.2,324.4 L374.5,322.3 L382.8,320.1 L391.1,317.9 L399.4,315.7 L407.7,313.5 L416.0,311.2 L424.2,309.0 L432.5,306.8 L440.8,304.5 L449.1,302.3 L457.4,300.1 L465.7,297.9 L474.0,295.7 L482.3,293.6 L490.6,291.5 L498.8,289.5 L507.1,287.5 L515.4,285.6 L523.7,283.8 L532.0,282.1 L540.3,280.4 L548.6,278.8 L556.9,277.3 L565.2,276.0 L573.4,274.7 L581.7,273.5 L590.0,272.4 L598.3,271.3 L606.6,270.4 L614.9,269.6 L623.2,268.8 L631.5,268.1 L639.8,267.5 L648.0,267.0 L656.3,266.5 L664.6,266.2 L672.9,265.9 L681.2,265.7"/>
<path d="M349.6,328.3 L357.9,326.7 L366.2,324.8 L374.5,322.7 L382.8,320.6 L391.1,318.5 L399.4,316.3 L407.7,314.0 L416.0,311.7 L424.2,309.5 L432.5,307.2 L440.8,304.9 L449.1,302.7 L457.4,300.4 L465.7,298.2 L474.0,296.0 L482.3,293.9 L490.6,291.8 L498.8,289.8 L507.1,287.8 L515.4,285.9 L523.7,284.1 L532.0,282.3 L540.3,280.5 L548.6,278.9 L556.9,277.3 L565.2,275.7 L573.4,274.3 L581.7,272.9 L590.0,271.6 L598.3,270.3 L606.6,269.2 L614.9,268.1 L623.2,267.2 L631.5,266.3 L639.8,265.6 L648.0,265.0 L656.3,264.5 L664.6,264.1 L672.9,263.9 L681.2,263.9"/>
<path d="M349.6,328.3 L357.9,326.0 L366.2,323.5 L374.5,321.1 L382.8,318.7 L391.1,316.2 L399.4,313.8 L407.7,311.4 L416.0,309.0 L424.2,306.6 L432.5,304.3 L440.8,302.0 L449.1,299.7 L457.4,297.4 L465.7,295.2 L474.0,293.0 L482.3,290.8 L490.6,288.7 L498.8,286.6 L507.1,284.6 L515.4,282.7 L523.7,280.8 L532.0,279.0 L540.3,277.3 L548.6,275.7 L556.9,274.1 L565.2,272.7 L573.4,271.4 L581.7,270.2 L590.0,269.1 L598.3,268.1 L606.6,267.3 L614.9,266.5 L623.2,265.8 L631.5,265.2 L639.8,264.7 L648.0,264.3 L656.3,264.0 L664.6,263.8 L672.9,263.6 L681.2,263.5"/>
<path d="M349.6,328.3 L357.9,324.5 L366.2,321.2 L374.5,318.1 L382.8,315.2 L391.1,312.3 L399.4,309.6 L407.7,306.9 L416.0,304.3 L424.2,301.8 L432.5,299.4 L440.8,297.0 L449.1,294.7 L457.4,292.4 L465.7,290.3 L474.0,288.2 L482.3,286.2 L490.6,284.3 L498.8,282.5 L507.1,280.7 L515.4,279.0 L523.7,277.4 L532.0,275.9 L540.3,274.5 L548.6,273.1 L556.9,271.8 L565.2,270.6 L573.4,269.5 L581.7,268.5 L590.0,267.5 L598.3,266.7 L606.6,265.9 L614.9,265.1 L623.2,264.5 L631.5,263.9 L639.8,263.5 L648.0,263.1 L656.3,262.8 L664.6,262.6 L672.9,262.4 L681.2,262.4"/>
<path d="M349.6,328.3 L357.9,324.5 L366.2,321.2 L374.5,318.1 L382.8,315.2 L391.1,312.3 L399.4,309.5 L407.7,306.7 L416.0,304.1 L424.2,301.5 L432.5,299.0 L440.8,296.6 L449.1,294.2 L457.4,292.0 L465.7,289.8 L474.0,287.6 L482.3,285.6 L490.6,283.6 L498.8,281.7 L507.1,279.9 L515.4,278.2 L523.7,276.5 L532.0,275.0 L540.3,273.5 L548.6,272.1 L556.9,270.7 L565.2,269.5 L573.4,268.3 L581.7,267.2 L590.0,266.2 L598.3,265.3 L606.6,264.5 L614.9,263.7 L623.2,263.1 L631.5,262.5 L639.8,262.0 L648.0,261.6 L656.3,261.3 L664.6,261.0 L672.9,260.9 L681.2,260.9"/>
<path d="M349.6,328.3 L357.9,325.9 L366.2,323.4 L374.5,320.8 L382.8,318.3 L391.1,315.7 L399.4,313.1 L407.7,310.6 L416.0,308.0 L424.2,305.5 L432.5,303.0 L440.8,300.6 L449.1,298.1 L457.4,295.8 L465.7,293.4 L474.0,291.1 L482.3,288.8 L490.6,286.6 L498.8,284.4 L507.1,282.3 L515.4,280.3 L523.7,278.3 L532.0,276.3 L540.3,274.5 L548.6,272.8 L556.9,271.1 L565.2,269.5 L573.4,268.1 L581.7,266.7 L590.0,265.5 L598.3,264.4 L606.6,263.4 L614.9,262.5 L623.2,261.7 L631.5,261.1 L639.8,260.5 L648.0,260.1 L656.3,259.8 L664.6,259.6 L672.9,259.4 L681.2,259.4"/>
<path d="M349.6,328.3 L357.9,325.3 L366.2,322.5 L374.5,319.6 L382.8,316.8 L391.1,314.1 L399.4,311.4 L407.7,308.7 L416.0,306.0 L424.2,303.4 L432.5,300.8 L440.8,298.3 L449.1,295.8 L457.4,293.4 L465.7,291.0 L474.0,288.7 L482.3,286.5 L490.6,284.3 L498.8,282.2 L507.1,280.1 L515.4,278.2 L523.7,276.3 L532.0,274.5 L540.3,272.8 L548.6,271.2 L556.9,269.6 L565.2,268.2 L573.4,266.9 L581.7,265.7 L590.0,264.5 L598.3,263.5 L606.6,262.6 L614.9,261.7 L623.2,261.0 L631.5,260.4 L639.8,259.8 L648.0,259.3 L656.3,259.0 L664.6,258.7 L672.9,258.5 L681.2,258.4"/>
<path d="M349.6,328.3 L357.9,326.4 L366.2,324.3 L374.5,322.1 L382.8,319.8 L391.1,317.4 L399.4,315.0 L407.7,312.5 L416.0,310.0 L424.2,307.5 L432.5,304.9 L440.8,302.3 L449.1,299.8 L457.4,297.2 L465.7,294.6 L474.0,292.1 L482.3,289.6 L490.6,287.1 L498.8,284.7 L507.1,282.4 L515.4,280.2 L523.7,278.1 L532.0,276.1 L540.3,274.2 L548.6,272.5 L556.9,270.8 L565.2,269.3 L573.4,267.9 L581.7,266.6 L590.0,265.4 L598.3,264.3 L606.6,263.3 L614.9,262.3 L623.2,261.4 L631.5,260.5 L639.8,259.7 L648.0,259.0 L656.3,258.3 L664.6,257.7 L672.9,257.2 L681.2,256.8"/>
<path d="M349.6,328.3 L357.9,326.4 L366.2,324.2 L374.5,321.9 L382.8,319.5 L391.1,317.0 L399.4,314.5 L407.7,312.0 L416.0,309.5 L424.2,307.0 L432.5,304.4 L440.8,301.9 L449.1,299.3 L457.4,296.8 L465.7,294.3 L474.0,291.8 L482.3,289.3 L490.6,286.9 L498.8,284.5 L507.1,282.1 L515.4,279.9 L523.7,277.7 L532.0,275.5 L540.3,273.5 L548.6,271.5 L556.9,269.7 L565.2,268.0 L573.4,266.3 L581.7,264.8 L590.0,263.4 L598.3,262.2 L606.6,261.0 L614.9,260.0 L623.2,259.1 L631.5,258.3 L639.8,257.7 L648.0,257.1 L656.3,256.7 L664.6,256.3 L672.9,256.1 L681.2,256.0"/>
<path d="M349.6,328.3 L357.9,324.9 L366.2,321.8 L374.5,318.7 L382.8,315.7 L391.1,312.7 L399.4,309.8 L407.7,307.0 L416.0,304.1 L424.2,301.4 L432.5,298.6 L440.8,296.0 L449.1,293.3 L457.4,290.8 L465.7,288.2 L474.0,285.8 L482.3,283.4 L490.6,281.0 L498.8,278.8 L507.1,276.7 L515.4,274.6 L523.7,272.7 L532.0,270.8 L540.3,269.1 L548.6,267.5 L556.9,266.0 L565.2,264.6 L573.4,263.3 L581.7,262.1 L590.0,261.0 L598.3,260.1 L606.6,259.2 L614.9,258.4 L623.2,257.6 L631.5,257.0 L639.8,256.4 L648.0,255.9 L656.3,255.4 L664.6,255.1 L672.9,254.8 L681.2,254.6"/>
<path d="M349.6,328.3 L357.9,325.2 L366.2,322.2 L374.5,319.2 L382.8,316.3 L391.1,313.3 L399.4,310.4 L407.7,307.5 L416.0,304.7 L424.2,301.9 L432.5,299.1 L440.8,296.4 L449.1,293.7 L457.4,291.1 L465.7,288.5 L474.0,286.1 L482.3,283.6 L490.6,281.3 L498.8,279.0 L507.1,276.8 L515.4,274.7 L523.7,272.6 L532.0,270.7 L540.3,268.8 L548.6,267.1 L556.9,265.4 L565.2,263.8 L573.4,262.3 L581.7,260.9 L590.0,259.7 L598.3,258.5 L606.6,257.4 L614.9,256.5 L623.2,255.6 L631.5,254.9 L639.8,254.3 L648.0,253.8 L656.3,253.4 L664.6,253.1 L672.9,252.9 L681.2,252.8"/>
<path d="M349.6,328.3 L357.9,324.9 L366.2,321.6 L374.5,318.4 L382.8,315.2 L391.1,312.2 L399.4,309.1 L407.7,306.1 L416.0,303.2 L424.2,300.3 L432.5,297.5 L440.8,294.7 L449.1,292.0 L457.4,289.4 L465.7,286.8 L474.0,284.3 L482.3,281.9 L490.6,279.5 L498.8,277.3 L507.1,275.1 L515.4,273.0 L523.7,270.9 L532.0,269.0 L540.3,267.2 L548.6,265.4 L556.9,263.8 L565.2,262.2 L573.4,260.7 L581.7,259.4 L590.0,258.1 L598.3,257.0 L606.6,255.9 L614.9,255.0 L623.2,254.2 L631.5,253.4 L639.8,252.8 L648.0,252.3 L656.3,252.0 L664.6,251.7 L672.9,251.6 L681.2,251.5"/>
<path d="M349.6,328.3 L357.9,324.2 L366.2,320.5 L374.5,317.0 L382.8,313.7 L391.1,310.4 L399.4,307.2 L407.7,304.1 L416.0,301.0 L424.2,298.0 L432.5,295.1 L440.8,292.3 L449.1,289.5 L457.4,286.7 L465.7,284.0 L474.0,281.5 L482.3,278.9 L490.6,276.5 L498.8,274.2 L507.1,272.0 L515.4,269.9 L523.7,267.9 L532.0,266.0 L540.3,264.3 L548.6,262.7 L556.9,261.2 L565.2,259.8 L573.4,258.6 L581.7,257.5 L590.0,256.4 L598.3,255.5 L606.6,254.6 L614.9,253.8 L623.2,253.1 L631.5,252.4 L639.8,251.8 L648.0,251.2 L656.3,250.8 L664.6,250.3 L672.9,250.0 L681.2,249.7"/>
<path d="M349.6,328.3 L357.9,325.5 L366.2,322.6 L374.5,319.6 L382.8,316.6 L391.1,313.5 L399.4,310.5 L407.7,307.4 L416.0,304.4 L424.2,301.4 L432.5,298.4 L440.8,295.5 L449.1,292.6 L457.4,289.8 L465.7,287.1 L474.0,284.5 L482.3,281.9 L490.6,279.4 L498.8,277.1 L507.1,274.8 L515.4,272.6 L523.7,270.4 L532.0,268.4 L540.3,266.4 L548.6,264.5 L556.9,262.6 L565.2,260.8 L573.4,259.1 L581.7,257.4 L590.0,255.9 L598.3,254.3 L606.6,252.9 L614.9,251.6 L623.2,250.5 L631.5,249.4 L639.8,248.5 L648.0,247.8 L656.3,247.2 L664.6,246.9 L672.9,246.7 L681.2,246.7"/>
<path d="M349.6,328.3 L357.9,324.3 L366.2,320.7 L374.5,317.1 L382.8,313.6 L391.1,310.3 L399.4,307.0 L407.7,303.8 L416.0,300.7 L424.2,297.7 L432.5,294.7 L440.8,291.9 L449.1,289.1 L457.4,286.4 L465.7,283.8 L474.0,281.3 L482.3,278.8 L490.6,276.3 L498.8,273.9 L507.1,271.6 L515.4,269.3 L523.7,267.0 L532.0,264.8 L540.3,262.7 L548.6,260.7 L556.9,258.7 L565.2,256.9 L573.4,255.2 L581.7,253.6 L590.0,252.3 L598.3,251.0 L606.6,250.0 L614.9,249.1 L623.2,248.5 L631.5,247.9 L639.8,247.6 L648.0,247.4 L656.3,247.4 L664.6,247.4 L672.9,247.6 L681.2,247.8"/>
</g>
<clipPath id="ax"><rect x="350.2" y="6.35" width="331.55" height="321.25"/></clipPath>
<g fill="none" stroke="#d62728" stroke-width="3.5" stroke-linejoin="round" stroke-linecap="butt" clip-path="url(#ax)">
<path d="M345.6,331.9 L346.0,331.4 L346.5,330.8 L347.1,330.0 L347.8,329.0 L348.6,327.9 L349.6,326.5 L350.9,324.8 L352.3,322.9 L353.8,320.8 L355.5,318.5 L357.1,316.3 L358.7,314.1 L360.2,312.1 L361.6,310.2 L363.1,308.2 L364.6,306.2 L366.3,303.9 L368.2,301.4 L370.1,298.8 L372.1,296.2 L374.1,293.4 L376.5,290.2 L379.4,286.3 L382.9,281.6 L387.4,275.5 L392.9,268.2 L398.8,260.2 L404.8,252.3 L410.3,244.9 L414.8,238.8 L418.2,234.1 L420.9,230.3 L423.2,227.1 L425.2,224.3 L427.2,221.4 L429.6,218.3 L432.2,214.9 L434.9,211.5 L437.6,208.1 L440.4,204.8 L443.2,201.4 L446.0,198.0 L449.0,194.5 L452.2,190.9 L455.5,187.3 L458.6,183.8 L461.5,180.6 L464.0,177.7 L466.0,175.3 L467.5,173.5 L468.7,171.8 L469.9,170.2 L471.4,168.3 L473.2,166.0 L475.5,163.2 L478.1,159.9 L481.0,156.5 L483.9,153.0 L486.8,149.6 L489.6,146.4 L492.4,143.3 L495.4,140.3 L498.3,137.3 L501.1,134.5 L503.7,131.9 L506.0,129.6 L507.7,127.8 L509.0,126.4 L510.1,125.2 L511.2,124.0 L512.5,122.7 L514.2,121.0 L516.5,118.9 L519.1,116.5 L521.9,114.0 L524.8,111.4 L527.8,108.7 L530.6,106.2 L533.3,103.7 L536.0,101.2 L538.7,98.6 L541.4,96.2 L544.2,93.8 L547.0,91.5 L550.0,89.3 L553.2,87.3 L556.4,85.3 L559.5,83.4 L562.4,81.6 L565.0,80.0 L567.1,78.6 L568.7,77.5 L570.1,76.6 L571.5,75.6 L573.1,74.4 L575.0,72.8 L577.4,70.8 L580.0,68.4 L582.8,65.8 L585.7,63.2 L588.6,60.7 L591.4,58.6 L594.1,56.8 L596.9,55.1 L599.6,53.6 L602.3,52.2 L605.1,50.9 L607.8,49.6 L610.4,48.3 L612.9,47.1 L615.4,46.0 L618.0,45.0 L620.9,44.0 L624.2,43.0 L627.9,42.1 L632.0,41.2 L636.4,40.4 L640.9,39.7 L645.6,39.0 L650.4,38.4 L655.7,37.9 L661.6,37.5 L667.6,37.1 L673.3,36.8 L678.1,36.6 L681.5,36.4"/>
<path d="M345.6,332.4 L346.0,331.9 L346.5,331.3 L347.1,330.5 L347.8,329.5 L348.6,328.4 L349.6,327.0 L350.9,325.4 L352.3,323.5 L353.8,321.4 L355.5,319.1 L357.1,316.9 L358.7,314.8 L360.2,312.8 L361.6,310.9 L363.1,309.0 L364.6,306.9 L366.3,304.7 L368.2,302.2 L370.1,299.6 L372.1,297.1 L374.1,294.3 L376.5,291.1 L379.4,287.4 L382.9,282.8 L387.4,276.9 L392.9,269.8 L398.8,262.1 L404.8,254.4 L410.3,247.3 L414.8,241.4 L418.2,236.8 L420.9,233.2 L423.2,230.1 L425.2,227.4 L427.2,224.6 L429.6,221.6 L432.2,218.4 L434.9,215.1 L437.5,211.9 L440.3,208.7 L443.1,205.5 L446.0,202.2 L449.0,198.8 L452.2,195.4 L455.5,191.9 L458.8,188.4 L462.0,184.9 L465.0,181.6 L467.9,178.4 L470.7,175.2 L473.4,172.0 L476.0,168.9 L478.7,165.9 L481.4,162.8 L484.1,159.7 L486.9,156.7 L489.6,153.6 L492.3,150.6 L495.1,147.7 L497.8,144.8 L500.5,142.0 L503.3,139.1 L506.0,136.4 L508.7,133.6 L511.5,131.0 L514.2,128.5 L516.9,126.1 L519.7,123.8 L522.4,121.6 L525.1,119.4 L527.9,117.3 L530.6,115.2 L533.3,113.1 L536.1,111.1 L538.8,109.1 L541.5,107.1 L544.3,105.2 L547.0,103.2 L549.8,101.2 L552.6,99.2 L555.5,97.2 L558.3,95.3 L560.9,93.5 L563.4,91.8 L565.6,90.3 L567.4,89.0 L569.2,87.8 L571.0,86.7 L572.8,85.5 L575.0,84.3 L577.5,83.0 L580.1,81.6 L582.9,80.2 L585.8,78.9 L588.6,77.5 L591.4,76.1 L594.1,74.7 L596.9,73.3 L599.6,71.9 L602.3,70.5 L605.1,69.2 L607.8,68.0 L610.5,66.9 L613.3,65.9 L616.0,64.9 L618.7,64.0 L621.5,63.0 L624.2,61.9 L627.0,60.7 L629.9,59.3 L632.8,58.0 L635.6,56.7 L638.2,55.5 L640.6,54.5 L642.6,53.8 L644.2,53.3 L645.6,52.9 L647.0,52.6 L648.6,52.3 L650.4,52.0 L652.6,51.6 L654.9,51.2 L657.4,50.8 L660.0,50.4 L662.6,50.0 L665.2,49.7 L668.0,49.4 L671.1,49.1 L674.3,48.8 L677.2,48.6 L679.7,48.4 L681.5,48.2"/>
<path d="M345.6,332.6 L345.9,332.3 L346.1,332.0 L346.5,331.5 L347.1,330.8 L348.1,329.5 L349.6,327.6 L351.9,324.8 L354.9,321.2 L358.3,317.1 L361.8,312.8 L365.2,308.7 L368.2,305.0 L370.6,302.1 L372.4,299.9 L374.2,297.8 L376.3,295.4 L379.0,292.1 L382.9,287.4 L388.5,280.6 L395.6,272.0 L403.5,262.5 L411.2,253.2 L418.0,245.0 L423.0,239.0 L425.9,235.5 L427.3,234.0 L427.8,233.5 L427.9,233.5 L428.3,233.2 L429.6,231.8 L431.8,229.4 L434.3,226.5 L437.2,223.4 L440.2,220.1 L443.2,216.7 L446.0,213.6 L448.7,210.6 L451.5,207.5 L454.2,204.5 L456.9,201.5 L459.7,198.5 L462.4,195.6 L465.2,192.7 L468.1,189.9 L470.9,187.0 L473.7,184.3 L476.4,181.7 L478.8,179.2 L480.9,177.0 L482.6,174.9 L484.2,173.0 L485.8,171.1 L487.5,169.1 L489.6,167.0 L492.0,164.7 L494.7,162.2 L497.6,159.7 L500.5,157.1 L503.3,154.6 L506.0,152.2 L508.6,149.8 L511.2,147.4 L513.8,145.0 L516.2,142.7 L518.5,140.6 L520.7,138.6 L522.6,136.9 L524.1,135.5 L525.5,134.3 L527.0,133.0 L528.6,131.7 L530.6,130.2 L533.0,128.4 L535.6,126.5 L538.4,124.5 L541.3,122.4 L544.2,120.5 L547.0,118.6 L549.8,116.8 L552.6,115.1 L555.5,113.5 L558.3,111.9 L560.9,110.3 L563.4,108.9 L565.6,107.6 L567.4,106.4 L569.2,105.2 L571.0,104.1 L572.8,103.0 L575.0,101.8 L577.5,100.5 L580.1,99.2 L582.9,97.8 L585.8,96.5 L588.6,95.1 L591.4,93.8 L594.1,92.5 L596.9,91.1 L599.6,89.7 L602.3,88.4 L605.1,87.1 L607.8,86.0 L610.5,84.9 L613.3,84.0 L616.0,83.1 L618.7,82.2 L621.5,81.5 L624.2,80.8 L626.9,80.2 L629.7,79.8 L632.4,79.4 L635.1,79.1 L637.9,78.8 L640.6,78.5 L643.2,78.2 L645.8,78.0 L648.3,77.8 L650.9,77.5 L653.8,77.3 L657.0,77.0 L660.9,76.6 L665.5,76.1 L670.3,75.7 L674.8,75.2 L678.7,74.8 L681.5,74.5"/>
<path d="M345.6,333.2 L345.9,332.9 L346.1,332.6 L346.5,332.1 L347.1,331.4 L348.1,330.2 L349.6,328.3 L351.9,325.5 L354.9,322.0 L358.3,317.9 L361.8,313.7 L365.2,309.6 L368.2,306.0 L370.6,303.2 L372.4,301.0 L374.2,298.9 L376.3,296.5 L379.0,293.2 L382.9,288.6 L388.5,281.9 L395.6,273.4 L403.5,264.0 L411.2,254.7 L418.0,246.6 L423.0,240.6 L425.9,237.2 L427.3,235.6 L427.8,235.1 L427.9,235.1 L428.3,234.8 L429.6,233.4 L431.8,231.0 L434.3,228.2 L437.2,225.1 L440.2,221.8 L443.2,218.5 L446.0,215.4 L448.7,212.4 L451.5,209.3 L454.2,206.3 L456.9,203.3 L459.7,200.3 L462.4,197.4 L465.2,194.5 L468.1,191.7 L470.9,188.9 L473.7,186.1 L476.4,183.5 L478.8,181.0 L480.9,178.7 L482.6,176.7 L484.2,174.7 L485.8,172.7 L487.5,170.7 L489.6,168.6 L492.0,166.3 L494.5,164.0 L497.2,161.6 L500.1,159.1 L503.0,156.6 L506.0,154.0 L509.2,151.2 L512.7,148.1 L516.4,144.9 L519.9,141.9 L523.0,139.2 L525.7,137.0 L527.7,135.4 L529.1,134.4 L530.2,133.7 L531.2,133.1 L532.4,132.4 L533.9,131.4 L535.8,130.1 L537.8,128.7 L539.9,127.2 L542.2,125.7 L544.6,124.1 L547.0,122.5 L549.6,120.9 L552.4,119.2 L555.3,117.4 L558.2,115.7 L560.9,114.1 L563.4,112.6 L565.6,111.3 L567.4,110.1 L569.2,109.0 L571.0,108.0 L572.8,106.8 L575.0,105.6 L577.5,104.2 L580.1,102.7 L582.9,101.2 L585.8,99.6 L588.6,98.1 L591.4,96.6 L594.1,95.1 L596.9,93.6 L599.6,92.1 L602.3,90.6 L605.1,89.2 L607.8,88.0 L610.5,86.9 L613.3,85.9 L616.0,85.0 L618.7,84.2 L621.5,83.5 L624.2,82.8 L626.9,82.2 L629.7,81.6 L632.4,81.2 L635.1,80.7 L637.9,80.4 L640.6,80.0 L643.2,79.7 L645.8,79.5 L648.3,79.3 L650.9,79.1 L653.8,78.9 L657.0,78.6 L660.9,78.2 L665.5,77.8 L670.3,77.4 L674.8,76.9 L678.7,76.6 L681.5,76.3"/>
<path d="M345.6,332.6 L345.7,332.5 L345.6,332.6 L345.6,332.7 L346.0,332.2 L347.2,330.9 L349.6,328.3 L353.5,324.2 L358.5,318.9 L364.3,312.7 L370.6,306.1 L376.9,299.4 L382.9,293.0 L388.9,286.7 L395.2,280.0 L401.5,273.2 L407.7,266.7 L413.3,260.8 L418.0,255.8 L421.7,251.9 L424.5,248.9 L426.8,246.5 L428.8,244.4 L431.0,242.2 L433.7,239.8 L436.9,237.1 L440.3,234.2 L443.9,231.4 L447.5,228.7 L451.0,226.0 L454.2,223.5 L457.2,221.2 L460.0,219.1 L462.7,217.0 L465.3,215.1 L467.9,213.1 L470.6,211.0 L473.4,208.8 L476.3,206.6 L479.2,204.3 L481.9,202.1 L484.6,199.9 L487.0,198.0 L489.1,196.3 L490.8,194.8 L492.4,193.4 L494.0,192.0 L495.7,190.6 L497.8,189.0 L500.2,187.2 L502.9,185.3 L505.7,183.3 L508.5,181.3 L511.4,179.3 L514.2,177.5 L516.9,175.8 L519.7,174.1 L522.4,172.6 L525.1,171.0 L527.9,169.4 L530.6,167.7 L533.3,166.0 L536.1,164.2 L538.8,162.3 L541.5,160.5 L544.3,158.7 L547.0,157.0 L549.8,155.3 L552.6,153.5 L555.5,151.7 L558.3,150.1 L560.9,148.5 L563.4,147.2 L565.6,146.1 L567.4,145.3 L569.2,144.6 L571.0,143.9 L572.8,143.2 L575.0,142.4 L577.5,141.4 L580.1,140.3 L582.9,139.2 L585.8,138.1 L588.6,137.0 L591.4,136.0 L594.1,135.1 L596.9,134.2 L599.6,133.4 L602.3,132.6 L605.1,131.9 L607.8,131.1 L610.5,130.4 L613.3,129.6 L616.0,128.9 L618.7,128.2 L621.5,127.6 L624.2,127.0 L626.9,126.5 L629.7,126.1 L632.4,125.7 L635.1,125.3 L637.9,125.0 L640.6,124.6 L643.3,124.2 L646.1,123.8 L648.8,123.3 L651.5,122.9 L654.3,122.5 L657.0,122.1 L659.8,121.7 L662.8,121.2 L665.7,120.8 L668.5,120.4 L671.1,120.1 L673.4,120.0 L675.3,120.0 L677.0,120.3 L678.5,120.6 L679.7,120.9 L680.7,121.2 L681.5,121.4"/>
<path d="M345.6,331.9 L345.7,331.8 L345.6,331.9 L345.6,331.9 L346.0,331.6 L347.2,330.4 L349.6,328.3 L353.5,324.9 L358.5,320.4 L364.3,315.3 L370.6,309.7 L376.9,304.1 L382.9,298.8 L388.6,293.7 L394.4,288.5 L400.3,283.3 L406.1,278.1 L412.1,273.0 L418.0,267.9 L424.2,262.7 L430.7,257.4 L437.3,252.1 L443.6,247.1 L449.3,242.5 L454.2,238.6 L458.1,235.5 L461.1,233.2 L463.6,231.3 L465.9,229.6 L468.1,228.0 L470.6,226.2 L473.3,224.2 L476.1,222.3 L478.8,220.3 L481.5,218.4 L484.3,216.5 L487.0,214.6 L489.8,212.7 L492.6,210.7 L495.5,208.7 L498.3,206.8 L500.9,204.9 L503.4,203.2 L505.6,201.6 L507.5,200.1 L509.2,198.7 L511.0,197.3 L512.9,195.9 L515.0,194.4 L517.4,192.9 L519.9,191.3 L522.5,189.8 L525.2,188.2 L527.9,186.7 L530.6,185.2 L533.3,183.8 L536.0,182.4 L538.8,181.0 L541.5,179.7 L544.3,178.4 L547.0,177.0 L549.8,175.6 L552.6,174.2 L555.5,172.8 L558.3,171.4 L560.9,170.0 L563.4,168.8 L565.7,167.6 L567.7,166.6 L569.7,165.5 L571.6,164.6 L573.3,163.6 L575.0,162.8 L576.5,162.1 L577.7,161.5 L578.8,160.9 L580.0,160.4 L581.4,159.8 L583.2,159.0 L585.5,158.1 L588.1,157.0 L590.9,155.9 L593.8,154.7 L596.8,153.6 L599.6,152.5 L602.3,151.4 L605.1,150.4 L607.8,149.3 L610.5,148.3 L613.3,147.4 L616.0,146.7 L618.7,146.2 L621.5,145.8 L624.2,145.6 L626.9,145.4 L629.7,145.2 L632.4,145.0 L635.1,144.7 L637.9,144.4 L640.6,144.1 L643.3,143.9 L646.1,143.6 L648.8,143.4 L651.5,143.2 L654.3,143.0 L657.0,142.8 L659.7,142.6 L662.5,142.6 L665.2,142.6 L668.1,142.8 L671.2,143.2 L674.4,143.6 L677.3,144.0 L679.7,144.4 L681.5,144.7"/>
<path d="M345.6,331.7 L345.7,331.6 L345.6,331.7 L345.6,331.7 L346.0,331.3 L347.2,330.3 L349.6,328.3 L353.5,325.2 L358.5,321.1 L364.3,316.4 L370.6,311.3 L376.9,306.1 L382.9,301.2 L388.6,296.4 L394.4,291.5 L400.3,286.4 L406.1,281.4 L412.1,276.4 L418.0,271.4 L424.2,266.3 L430.7,260.9 L437.3,255.6 L443.6,250.5 L449.3,245.9 L454.2,242.0 L458.1,239.0 L461.1,236.6 L463.6,234.8 L465.9,233.2 L468.1,231.6 L470.6,229.8 L473.3,227.8 L476.1,225.9 L478.8,224.0 L481.5,222.0 L484.3,220.1 L487.0,218.2 L489.8,216.3 L492.6,214.3 L495.5,212.3 L498.3,210.4 L500.9,208.6 L503.4,206.8 L505.6,205.2 L507.5,203.7 L509.2,202.2 L511.0,200.8 L512.9,199.4 L515.0,197.9 L517.4,196.4 L519.9,194.8 L522.5,193.3 L525.2,191.8 L527.9,190.3 L530.6,188.8 L533.3,187.4 L536.0,186.0 L538.8,184.6 L541.5,183.3 L544.3,182.0 L547.0,180.6 L549.8,179.2 L552.6,177.8 L555.5,176.4 L558.3,175.0 L560.9,173.6 L563.4,172.4 L565.6,171.3 L567.4,170.2 L569.2,169.2 L571.0,168.3 L572.8,167.4 L575.0,166.6 L577.5,165.8 L580.1,165.1 L582.9,164.4 L585.8,163.7 L588.6,163.1 L591.4,162.5 L594.2,162.0 L597.2,161.5 L600.1,161.0 L602.9,160.6 L605.5,160.2 L607.8,159.8 L609.5,159.4 L610.8,159.1 L611.9,158.7 L613.0,158.4 L614.3,157.9 L616.0,157.4 L618.3,156.7 L620.9,155.9 L623.7,155.1 L626.6,154.2 L629.6,153.3 L632.4,152.5 L635.1,151.8 L637.9,151.0 L640.6,150.3 L643.3,149.7 L646.1,149.0 L648.8,148.4 L651.5,147.8 L654.3,147.2 L657.0,146.6 L659.7,146.0 L662.5,145.6 L665.2,145.2 L668.1,145.0 L671.2,144.9 L674.4,144.8 L677.3,144.9 L679.7,144.9 L681.5,144.9"/>
</g>
</g>
<g id="plottext" fill="#000" class="dj" stroke="#000" stroke-width="0.15">
<text transform="translate(255.6,36.1) scale(0.88,1)" font-size="32" stroke="#000" stroke-width="0.5">(b)</text>
<text x="346.4" y="333.7" font-size="13.8" text-anchor="end">0</text>
<text x="346.4" y="226.4" font-size="13.8" text-anchor="end">5000</text>
<text x="346.4" y="119.1" font-size="13.8" text-anchor="end">10000</text>
<text x="346.4" y="11.8" font-size="13.8" text-anchor="end">15000</text>
<text x="349.6" y="342.5" font-size="13.8" text-anchor="middle">0</text>
<text x="416.0" y="342.5" font-size="13.8" text-anchor="middle">1</text>
<text x="482.3" y="342.5" font-size="13.8" text-anchor="middle">2</text>
<text x="548.6" y="342.5" font-size="13.8" text-anchor="middle">3</text>
<text x="614.9" y="342.5" font-size="13.8" text-anchor="middle">4</text>
<text x="681.2" y="342.5" font-size="13.8" text-anchor="middle">5</text>
<text x="516" y="362.3" font-size="16" font-style="italic" text-anchor="middle">t (ps)</text>
<text transform="translate(293.2,167.2) rotate(-90)" font-size="16" text-anchor="middle">⟨Δ<tspan font-style="italic">W</tspan>(<tspan font-style="italic">t</tspan>)⟩(<tspan font-style="italic">KJ</tspan><tspan dx="3">·</tspan><tspan font-style="italic" dx="3">mol</tspan><tspan font-size="11.2" dy="-6">−1</tspan><tspan dy="6">)</tspan></text>
</g>
</svg>
</body></html>
